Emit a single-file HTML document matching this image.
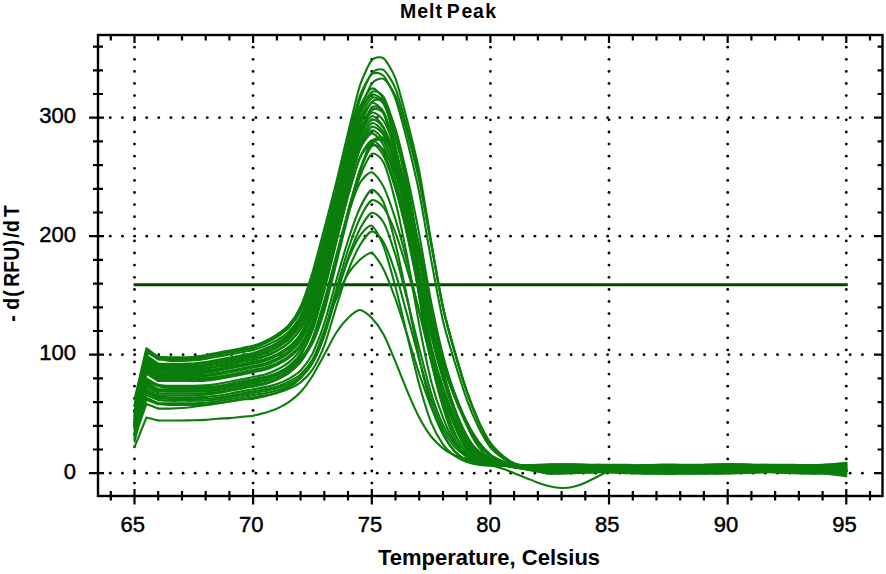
<!DOCTYPE html>
<html><head><meta charset="utf-8"><style>
html,body{margin:0;padding:0;background:#fff;}
svg{display:block;}
text{font-family:"Liberation Sans",sans-serif;}
</style></head><body>
<svg width="886" height="574" viewBox="0 0 886 574">
<rect width="886" height="574" fill="#fff"/>
<g fill="#000"><circle cx="134.5" cy="47.2" r="1.4"/><circle cx="134.5" cy="59.3" r="1.4"/><circle cx="134.5" cy="71.4" r="1.4"/><circle cx="134.5" cy="83.5" r="1.4"/><circle cx="134.5" cy="95.6" r="1.4"/><circle cx="134.5" cy="107.7" r="1.4"/><circle cx="134.5" cy="119.8" r="1.4"/><circle cx="134.5" cy="132.0" r="1.4"/><circle cx="134.5" cy="144.1" r="1.4"/><circle cx="134.5" cy="156.2" r="1.4"/><circle cx="134.5" cy="168.3" r="1.4"/><circle cx="134.5" cy="180.4" r="1.4"/><circle cx="134.5" cy="192.5" r="1.4"/><circle cx="134.5" cy="204.6" r="1.4"/><circle cx="134.5" cy="216.7" r="1.4"/><circle cx="134.5" cy="228.8" r="1.4"/><circle cx="134.5" cy="240.9" r="1.4"/><circle cx="134.5" cy="253.0" r="1.4"/><circle cx="134.5" cy="265.1" r="1.4"/><circle cx="134.5" cy="277.3" r="1.4"/><circle cx="134.5" cy="289.4" r="1.4"/><circle cx="134.5" cy="301.5" r="1.4"/><circle cx="134.5" cy="313.6" r="1.4"/><circle cx="134.5" cy="325.7" r="1.4"/><circle cx="134.5" cy="337.8" r="1.4"/><circle cx="134.5" cy="349.9" r="1.4"/><circle cx="134.5" cy="362.0" r="1.4"/><circle cx="134.5" cy="374.1" r="1.4"/><circle cx="134.5" cy="386.2" r="1.4"/><circle cx="134.5" cy="398.3" r="1.4"/><circle cx="134.5" cy="410.4" r="1.4"/><circle cx="134.5" cy="422.5" r="1.4"/><circle cx="134.5" cy="434.7" r="1.4"/><circle cx="134.5" cy="446.8" r="1.4"/><circle cx="134.5" cy="458.9" r="1.4"/><circle cx="134.5" cy="471.0" r="1.4"/><circle cx="134.5" cy="483.1" r="1.4"/><circle cx="253.1" cy="47.2" r="1.4"/><circle cx="253.1" cy="59.3" r="1.4"/><circle cx="253.1" cy="71.4" r="1.4"/><circle cx="253.1" cy="83.5" r="1.4"/><circle cx="253.1" cy="95.6" r="1.4"/><circle cx="253.1" cy="107.7" r="1.4"/><circle cx="253.1" cy="119.8" r="1.4"/><circle cx="253.1" cy="132.0" r="1.4"/><circle cx="253.1" cy="144.1" r="1.4"/><circle cx="253.1" cy="156.2" r="1.4"/><circle cx="253.1" cy="168.3" r="1.4"/><circle cx="253.1" cy="180.4" r="1.4"/><circle cx="253.1" cy="192.5" r="1.4"/><circle cx="253.1" cy="204.6" r="1.4"/><circle cx="253.1" cy="216.7" r="1.4"/><circle cx="253.1" cy="228.8" r="1.4"/><circle cx="253.1" cy="240.9" r="1.4"/><circle cx="253.1" cy="253.0" r="1.4"/><circle cx="253.1" cy="265.1" r="1.4"/><circle cx="253.1" cy="277.3" r="1.4"/><circle cx="253.1" cy="289.4" r="1.4"/><circle cx="253.1" cy="301.5" r="1.4"/><circle cx="253.1" cy="313.6" r="1.4"/><circle cx="253.1" cy="325.7" r="1.4"/><circle cx="253.1" cy="337.8" r="1.4"/><circle cx="253.1" cy="349.9" r="1.4"/><circle cx="253.1" cy="362.0" r="1.4"/><circle cx="253.1" cy="374.1" r="1.4"/><circle cx="253.1" cy="386.2" r="1.4"/><circle cx="253.1" cy="398.3" r="1.4"/><circle cx="253.1" cy="410.4" r="1.4"/><circle cx="253.1" cy="422.5" r="1.4"/><circle cx="253.1" cy="434.7" r="1.4"/><circle cx="253.1" cy="446.8" r="1.4"/><circle cx="253.1" cy="458.9" r="1.4"/><circle cx="253.1" cy="471.0" r="1.4"/><circle cx="253.1" cy="483.1" r="1.4"/><circle cx="371.8" cy="47.2" r="1.4"/><circle cx="371.8" cy="59.3" r="1.4"/><circle cx="371.8" cy="71.4" r="1.4"/><circle cx="371.8" cy="83.5" r="1.4"/><circle cx="371.8" cy="95.6" r="1.4"/><circle cx="371.8" cy="107.7" r="1.4"/><circle cx="371.8" cy="119.8" r="1.4"/><circle cx="371.8" cy="132.0" r="1.4"/><circle cx="371.8" cy="144.1" r="1.4"/><circle cx="371.8" cy="156.2" r="1.4"/><circle cx="371.8" cy="168.3" r="1.4"/><circle cx="371.8" cy="180.4" r="1.4"/><circle cx="371.8" cy="192.5" r="1.4"/><circle cx="371.8" cy="204.6" r="1.4"/><circle cx="371.8" cy="216.7" r="1.4"/><circle cx="371.8" cy="228.8" r="1.4"/><circle cx="371.8" cy="240.9" r="1.4"/><circle cx="371.8" cy="253.0" r="1.4"/><circle cx="371.8" cy="265.1" r="1.4"/><circle cx="371.8" cy="277.3" r="1.4"/><circle cx="371.8" cy="289.4" r="1.4"/><circle cx="371.8" cy="301.5" r="1.4"/><circle cx="371.8" cy="313.6" r="1.4"/><circle cx="371.8" cy="325.7" r="1.4"/><circle cx="371.8" cy="337.8" r="1.4"/><circle cx="371.8" cy="349.9" r="1.4"/><circle cx="371.8" cy="362.0" r="1.4"/><circle cx="371.8" cy="374.1" r="1.4"/><circle cx="371.8" cy="386.2" r="1.4"/><circle cx="371.8" cy="398.3" r="1.4"/><circle cx="371.8" cy="410.4" r="1.4"/><circle cx="371.8" cy="422.5" r="1.4"/><circle cx="371.8" cy="434.7" r="1.4"/><circle cx="371.8" cy="446.8" r="1.4"/><circle cx="371.8" cy="458.9" r="1.4"/><circle cx="371.8" cy="471.0" r="1.4"/><circle cx="371.8" cy="483.1" r="1.4"/><circle cx="490.4" cy="47.2" r="1.4"/><circle cx="490.4" cy="59.3" r="1.4"/><circle cx="490.4" cy="71.4" r="1.4"/><circle cx="490.4" cy="83.5" r="1.4"/><circle cx="490.4" cy="95.6" r="1.4"/><circle cx="490.4" cy="107.7" r="1.4"/><circle cx="490.4" cy="119.8" r="1.4"/><circle cx="490.4" cy="132.0" r="1.4"/><circle cx="490.4" cy="144.1" r="1.4"/><circle cx="490.4" cy="156.2" r="1.4"/><circle cx="490.4" cy="168.3" r="1.4"/><circle cx="490.4" cy="180.4" r="1.4"/><circle cx="490.4" cy="192.5" r="1.4"/><circle cx="490.4" cy="204.6" r="1.4"/><circle cx="490.4" cy="216.7" r="1.4"/><circle cx="490.4" cy="228.8" r="1.4"/><circle cx="490.4" cy="240.9" r="1.4"/><circle cx="490.4" cy="253.0" r="1.4"/><circle cx="490.4" cy="265.1" r="1.4"/><circle cx="490.4" cy="277.3" r="1.4"/><circle cx="490.4" cy="289.4" r="1.4"/><circle cx="490.4" cy="301.5" r="1.4"/><circle cx="490.4" cy="313.6" r="1.4"/><circle cx="490.4" cy="325.7" r="1.4"/><circle cx="490.4" cy="337.8" r="1.4"/><circle cx="490.4" cy="349.9" r="1.4"/><circle cx="490.4" cy="362.0" r="1.4"/><circle cx="490.4" cy="374.1" r="1.4"/><circle cx="490.4" cy="386.2" r="1.4"/><circle cx="490.4" cy="398.3" r="1.4"/><circle cx="490.4" cy="410.4" r="1.4"/><circle cx="490.4" cy="422.5" r="1.4"/><circle cx="490.4" cy="434.7" r="1.4"/><circle cx="490.4" cy="446.8" r="1.4"/><circle cx="490.4" cy="458.9" r="1.4"/><circle cx="490.4" cy="471.0" r="1.4"/><circle cx="490.4" cy="483.1" r="1.4"/><circle cx="609.0" cy="47.2" r="1.4"/><circle cx="609.0" cy="59.3" r="1.4"/><circle cx="609.0" cy="71.4" r="1.4"/><circle cx="609.0" cy="83.5" r="1.4"/><circle cx="609.0" cy="95.6" r="1.4"/><circle cx="609.0" cy="107.7" r="1.4"/><circle cx="609.0" cy="119.8" r="1.4"/><circle cx="609.0" cy="132.0" r="1.4"/><circle cx="609.0" cy="144.1" r="1.4"/><circle cx="609.0" cy="156.2" r="1.4"/><circle cx="609.0" cy="168.3" r="1.4"/><circle cx="609.0" cy="180.4" r="1.4"/><circle cx="609.0" cy="192.5" r="1.4"/><circle cx="609.0" cy="204.6" r="1.4"/><circle cx="609.0" cy="216.7" r="1.4"/><circle cx="609.0" cy="228.8" r="1.4"/><circle cx="609.0" cy="240.9" r="1.4"/><circle cx="609.0" cy="253.0" r="1.4"/><circle cx="609.0" cy="265.1" r="1.4"/><circle cx="609.0" cy="277.3" r="1.4"/><circle cx="609.0" cy="289.4" r="1.4"/><circle cx="609.0" cy="301.5" r="1.4"/><circle cx="609.0" cy="313.6" r="1.4"/><circle cx="609.0" cy="325.7" r="1.4"/><circle cx="609.0" cy="337.8" r="1.4"/><circle cx="609.0" cy="349.9" r="1.4"/><circle cx="609.0" cy="362.0" r="1.4"/><circle cx="609.0" cy="374.1" r="1.4"/><circle cx="609.0" cy="386.2" r="1.4"/><circle cx="609.0" cy="398.3" r="1.4"/><circle cx="609.0" cy="410.4" r="1.4"/><circle cx="609.0" cy="422.5" r="1.4"/><circle cx="609.0" cy="434.7" r="1.4"/><circle cx="609.0" cy="446.8" r="1.4"/><circle cx="609.0" cy="458.9" r="1.4"/><circle cx="609.0" cy="471.0" r="1.4"/><circle cx="609.0" cy="483.1" r="1.4"/><circle cx="727.7" cy="47.2" r="1.4"/><circle cx="727.7" cy="59.3" r="1.4"/><circle cx="727.7" cy="71.4" r="1.4"/><circle cx="727.7" cy="83.5" r="1.4"/><circle cx="727.7" cy="95.6" r="1.4"/><circle cx="727.7" cy="107.7" r="1.4"/><circle cx="727.7" cy="119.8" r="1.4"/><circle cx="727.7" cy="132.0" r="1.4"/><circle cx="727.7" cy="144.1" r="1.4"/><circle cx="727.7" cy="156.2" r="1.4"/><circle cx="727.7" cy="168.3" r="1.4"/><circle cx="727.7" cy="180.4" r="1.4"/><circle cx="727.7" cy="192.5" r="1.4"/><circle cx="727.7" cy="204.6" r="1.4"/><circle cx="727.7" cy="216.7" r="1.4"/><circle cx="727.7" cy="228.8" r="1.4"/><circle cx="727.7" cy="240.9" r="1.4"/><circle cx="727.7" cy="253.0" r="1.4"/><circle cx="727.7" cy="265.1" r="1.4"/><circle cx="727.7" cy="277.3" r="1.4"/><circle cx="727.7" cy="289.4" r="1.4"/><circle cx="727.7" cy="301.5" r="1.4"/><circle cx="727.7" cy="313.6" r="1.4"/><circle cx="727.7" cy="325.7" r="1.4"/><circle cx="727.7" cy="337.8" r="1.4"/><circle cx="727.7" cy="349.9" r="1.4"/><circle cx="727.7" cy="362.0" r="1.4"/><circle cx="727.7" cy="374.1" r="1.4"/><circle cx="727.7" cy="386.2" r="1.4"/><circle cx="727.7" cy="398.3" r="1.4"/><circle cx="727.7" cy="410.4" r="1.4"/><circle cx="727.7" cy="422.5" r="1.4"/><circle cx="727.7" cy="434.7" r="1.4"/><circle cx="727.7" cy="446.8" r="1.4"/><circle cx="727.7" cy="458.9" r="1.4"/><circle cx="727.7" cy="471.0" r="1.4"/><circle cx="727.7" cy="483.1" r="1.4"/><circle cx="846.3" cy="47.2" r="1.4"/><circle cx="846.3" cy="59.3" r="1.4"/><circle cx="846.3" cy="71.4" r="1.4"/><circle cx="846.3" cy="83.5" r="1.4"/><circle cx="846.3" cy="95.6" r="1.4"/><circle cx="846.3" cy="107.7" r="1.4"/><circle cx="846.3" cy="119.8" r="1.4"/><circle cx="846.3" cy="132.0" r="1.4"/><circle cx="846.3" cy="144.1" r="1.4"/><circle cx="846.3" cy="156.2" r="1.4"/><circle cx="846.3" cy="168.3" r="1.4"/><circle cx="846.3" cy="180.4" r="1.4"/><circle cx="846.3" cy="192.5" r="1.4"/><circle cx="846.3" cy="204.6" r="1.4"/><circle cx="846.3" cy="216.7" r="1.4"/><circle cx="846.3" cy="228.8" r="1.4"/><circle cx="846.3" cy="240.9" r="1.4"/><circle cx="846.3" cy="253.0" r="1.4"/><circle cx="846.3" cy="265.1" r="1.4"/><circle cx="846.3" cy="277.3" r="1.4"/><circle cx="846.3" cy="289.4" r="1.4"/><circle cx="846.3" cy="301.5" r="1.4"/><circle cx="846.3" cy="313.6" r="1.4"/><circle cx="846.3" cy="325.7" r="1.4"/><circle cx="846.3" cy="337.8" r="1.4"/><circle cx="846.3" cy="349.9" r="1.4"/><circle cx="846.3" cy="362.0" r="1.4"/><circle cx="846.3" cy="374.1" r="1.4"/><circle cx="846.3" cy="386.2" r="1.4"/><circle cx="846.3" cy="398.3" r="1.4"/><circle cx="846.3" cy="410.4" r="1.4"/><circle cx="846.3" cy="422.5" r="1.4"/><circle cx="846.3" cy="434.7" r="1.4"/><circle cx="846.3" cy="446.8" r="1.4"/><circle cx="846.3" cy="458.9" r="1.4"/><circle cx="846.3" cy="471.0" r="1.4"/><circle cx="846.3" cy="483.1" r="1.4"/><circle cx="110.3" cy="473.2" r="1.4"/><circle cx="122.4" cy="473.2" r="1.4"/><circle cx="134.6" cy="473.2" r="1.4"/><circle cx="146.7" cy="473.2" r="1.4"/><circle cx="158.8" cy="473.2" r="1.4"/><circle cx="170.9" cy="473.2" r="1.4"/><circle cx="183.1" cy="473.2" r="1.4"/><circle cx="195.2" cy="473.2" r="1.4"/><circle cx="207.3" cy="473.2" r="1.4"/><circle cx="219.5" cy="473.2" r="1.4"/><circle cx="231.6" cy="473.2" r="1.4"/><circle cx="243.7" cy="473.2" r="1.4"/><circle cx="255.9" cy="473.2" r="1.4"/><circle cx="268.0" cy="473.2" r="1.4"/><circle cx="280.1" cy="473.2" r="1.4"/><circle cx="292.2" cy="473.2" r="1.4"/><circle cx="304.4" cy="473.2" r="1.4"/><circle cx="316.5" cy="473.2" r="1.4"/><circle cx="328.6" cy="473.2" r="1.4"/><circle cx="340.8" cy="473.2" r="1.4"/><circle cx="352.9" cy="473.2" r="1.4"/><circle cx="365.0" cy="473.2" r="1.4"/><circle cx="377.2" cy="473.2" r="1.4"/><circle cx="389.3" cy="473.2" r="1.4"/><circle cx="401.4" cy="473.2" r="1.4"/><circle cx="413.6" cy="473.2" r="1.4"/><circle cx="425.7" cy="473.2" r="1.4"/><circle cx="437.8" cy="473.2" r="1.4"/><circle cx="449.9" cy="473.2" r="1.4"/><circle cx="462.1" cy="473.2" r="1.4"/><circle cx="474.2" cy="473.2" r="1.4"/><circle cx="486.3" cy="473.2" r="1.4"/><circle cx="498.5" cy="473.2" r="1.4"/><circle cx="510.6" cy="473.2" r="1.4"/><circle cx="522.7" cy="473.2" r="1.4"/><circle cx="534.9" cy="473.2" r="1.4"/><circle cx="547.0" cy="473.2" r="1.4"/><circle cx="559.1" cy="473.2" r="1.4"/><circle cx="571.2" cy="473.2" r="1.4"/><circle cx="583.4" cy="473.2" r="1.4"/><circle cx="595.5" cy="473.2" r="1.4"/><circle cx="607.6" cy="473.2" r="1.4"/><circle cx="619.8" cy="473.2" r="1.4"/><circle cx="631.9" cy="473.2" r="1.4"/><circle cx="644.0" cy="473.2" r="1.4"/><circle cx="656.1" cy="473.2" r="1.4"/><circle cx="668.3" cy="473.2" r="1.4"/><circle cx="680.4" cy="473.2" r="1.4"/><circle cx="692.5" cy="473.2" r="1.4"/><circle cx="704.7" cy="473.2" r="1.4"/><circle cx="716.8" cy="473.2" r="1.4"/><circle cx="728.9" cy="473.2" r="1.4"/><circle cx="741.1" cy="473.2" r="1.4"/><circle cx="753.2" cy="473.2" r="1.4"/><circle cx="765.3" cy="473.2" r="1.4"/><circle cx="777.5" cy="473.2" r="1.4"/><circle cx="789.6" cy="473.2" r="1.4"/><circle cx="801.7" cy="473.2" r="1.4"/><circle cx="813.8" cy="473.2" r="1.4"/><circle cx="826.0" cy="473.2" r="1.4"/><circle cx="838.1" cy="473.2" r="1.4"/><circle cx="850.2" cy="473.2" r="1.4"/><circle cx="862.4" cy="473.2" r="1.4"/><circle cx="110.3" cy="354.7" r="1.4"/><circle cx="122.4" cy="354.7" r="1.4"/><circle cx="134.6" cy="354.7" r="1.4"/><circle cx="146.7" cy="354.7" r="1.4"/><circle cx="158.8" cy="354.7" r="1.4"/><circle cx="170.9" cy="354.7" r="1.4"/><circle cx="183.1" cy="354.7" r="1.4"/><circle cx="195.2" cy="354.7" r="1.4"/><circle cx="207.3" cy="354.7" r="1.4"/><circle cx="219.5" cy="354.7" r="1.4"/><circle cx="231.6" cy="354.7" r="1.4"/><circle cx="243.7" cy="354.7" r="1.4"/><circle cx="255.9" cy="354.7" r="1.4"/><circle cx="268.0" cy="354.7" r="1.4"/><circle cx="280.1" cy="354.7" r="1.4"/><circle cx="292.2" cy="354.7" r="1.4"/><circle cx="304.4" cy="354.7" r="1.4"/><circle cx="316.5" cy="354.7" r="1.4"/><circle cx="328.6" cy="354.7" r="1.4"/><circle cx="340.8" cy="354.7" r="1.4"/><circle cx="352.9" cy="354.7" r="1.4"/><circle cx="365.0" cy="354.7" r="1.4"/><circle cx="377.2" cy="354.7" r="1.4"/><circle cx="389.3" cy="354.7" r="1.4"/><circle cx="401.4" cy="354.7" r="1.4"/><circle cx="413.6" cy="354.7" r="1.4"/><circle cx="425.7" cy="354.7" r="1.4"/><circle cx="437.8" cy="354.7" r="1.4"/><circle cx="449.9" cy="354.7" r="1.4"/><circle cx="462.1" cy="354.7" r="1.4"/><circle cx="474.2" cy="354.7" r="1.4"/><circle cx="486.3" cy="354.7" r="1.4"/><circle cx="498.5" cy="354.7" r="1.4"/><circle cx="510.6" cy="354.7" r="1.4"/><circle cx="522.7" cy="354.7" r="1.4"/><circle cx="534.9" cy="354.7" r="1.4"/><circle cx="547.0" cy="354.7" r="1.4"/><circle cx="559.1" cy="354.7" r="1.4"/><circle cx="571.2" cy="354.7" r="1.4"/><circle cx="583.4" cy="354.7" r="1.4"/><circle cx="595.5" cy="354.7" r="1.4"/><circle cx="607.6" cy="354.7" r="1.4"/><circle cx="619.8" cy="354.7" r="1.4"/><circle cx="631.9" cy="354.7" r="1.4"/><circle cx="644.0" cy="354.7" r="1.4"/><circle cx="656.1" cy="354.7" r="1.4"/><circle cx="668.3" cy="354.7" r="1.4"/><circle cx="680.4" cy="354.7" r="1.4"/><circle cx="692.5" cy="354.7" r="1.4"/><circle cx="704.7" cy="354.7" r="1.4"/><circle cx="716.8" cy="354.7" r="1.4"/><circle cx="728.9" cy="354.7" r="1.4"/><circle cx="741.1" cy="354.7" r="1.4"/><circle cx="753.2" cy="354.7" r="1.4"/><circle cx="765.3" cy="354.7" r="1.4"/><circle cx="777.5" cy="354.7" r="1.4"/><circle cx="789.6" cy="354.7" r="1.4"/><circle cx="801.7" cy="354.7" r="1.4"/><circle cx="813.8" cy="354.7" r="1.4"/><circle cx="826.0" cy="354.7" r="1.4"/><circle cx="838.1" cy="354.7" r="1.4"/><circle cx="850.2" cy="354.7" r="1.4"/><circle cx="862.4" cy="354.7" r="1.4"/><circle cx="110.3" cy="236.2" r="1.4"/><circle cx="122.4" cy="236.2" r="1.4"/><circle cx="134.6" cy="236.2" r="1.4"/><circle cx="146.7" cy="236.2" r="1.4"/><circle cx="158.8" cy="236.2" r="1.4"/><circle cx="170.9" cy="236.2" r="1.4"/><circle cx="183.1" cy="236.2" r="1.4"/><circle cx="195.2" cy="236.2" r="1.4"/><circle cx="207.3" cy="236.2" r="1.4"/><circle cx="219.5" cy="236.2" r="1.4"/><circle cx="231.6" cy="236.2" r="1.4"/><circle cx="243.7" cy="236.2" r="1.4"/><circle cx="255.9" cy="236.2" r="1.4"/><circle cx="268.0" cy="236.2" r="1.4"/><circle cx="280.1" cy="236.2" r="1.4"/><circle cx="292.2" cy="236.2" r="1.4"/><circle cx="304.4" cy="236.2" r="1.4"/><circle cx="316.5" cy="236.2" r="1.4"/><circle cx="328.6" cy="236.2" r="1.4"/><circle cx="340.8" cy="236.2" r="1.4"/><circle cx="352.9" cy="236.2" r="1.4"/><circle cx="365.0" cy="236.2" r="1.4"/><circle cx="377.2" cy="236.2" r="1.4"/><circle cx="389.3" cy="236.2" r="1.4"/><circle cx="401.4" cy="236.2" r="1.4"/><circle cx="413.6" cy="236.2" r="1.4"/><circle cx="425.7" cy="236.2" r="1.4"/><circle cx="437.8" cy="236.2" r="1.4"/><circle cx="449.9" cy="236.2" r="1.4"/><circle cx="462.1" cy="236.2" r="1.4"/><circle cx="474.2" cy="236.2" r="1.4"/><circle cx="486.3" cy="236.2" r="1.4"/><circle cx="498.5" cy="236.2" r="1.4"/><circle cx="510.6" cy="236.2" r="1.4"/><circle cx="522.7" cy="236.2" r="1.4"/><circle cx="534.9" cy="236.2" r="1.4"/><circle cx="547.0" cy="236.2" r="1.4"/><circle cx="559.1" cy="236.2" r="1.4"/><circle cx="571.2" cy="236.2" r="1.4"/><circle cx="583.4" cy="236.2" r="1.4"/><circle cx="595.5" cy="236.2" r="1.4"/><circle cx="607.6" cy="236.2" r="1.4"/><circle cx="619.8" cy="236.2" r="1.4"/><circle cx="631.9" cy="236.2" r="1.4"/><circle cx="644.0" cy="236.2" r="1.4"/><circle cx="656.1" cy="236.2" r="1.4"/><circle cx="668.3" cy="236.2" r="1.4"/><circle cx="680.4" cy="236.2" r="1.4"/><circle cx="692.5" cy="236.2" r="1.4"/><circle cx="704.7" cy="236.2" r="1.4"/><circle cx="716.8" cy="236.2" r="1.4"/><circle cx="728.9" cy="236.2" r="1.4"/><circle cx="741.1" cy="236.2" r="1.4"/><circle cx="753.2" cy="236.2" r="1.4"/><circle cx="765.3" cy="236.2" r="1.4"/><circle cx="777.5" cy="236.2" r="1.4"/><circle cx="789.6" cy="236.2" r="1.4"/><circle cx="801.7" cy="236.2" r="1.4"/><circle cx="813.8" cy="236.2" r="1.4"/><circle cx="826.0" cy="236.2" r="1.4"/><circle cx="838.1" cy="236.2" r="1.4"/><circle cx="850.2" cy="236.2" r="1.4"/><circle cx="862.4" cy="236.2" r="1.4"/><circle cx="110.3" cy="117.7" r="1.4"/><circle cx="122.4" cy="117.7" r="1.4"/><circle cx="134.6" cy="117.7" r="1.4"/><circle cx="146.7" cy="117.7" r="1.4"/><circle cx="158.8" cy="117.7" r="1.4"/><circle cx="170.9" cy="117.7" r="1.4"/><circle cx="183.1" cy="117.7" r="1.4"/><circle cx="195.2" cy="117.7" r="1.4"/><circle cx="207.3" cy="117.7" r="1.4"/><circle cx="219.5" cy="117.7" r="1.4"/><circle cx="231.6" cy="117.7" r="1.4"/><circle cx="243.7" cy="117.7" r="1.4"/><circle cx="255.9" cy="117.7" r="1.4"/><circle cx="268.0" cy="117.7" r="1.4"/><circle cx="280.1" cy="117.7" r="1.4"/><circle cx="292.2" cy="117.7" r="1.4"/><circle cx="304.4" cy="117.7" r="1.4"/><circle cx="316.5" cy="117.7" r="1.4"/><circle cx="328.6" cy="117.7" r="1.4"/><circle cx="340.8" cy="117.7" r="1.4"/><circle cx="352.9" cy="117.7" r="1.4"/><circle cx="365.0" cy="117.7" r="1.4"/><circle cx="377.2" cy="117.7" r="1.4"/><circle cx="389.3" cy="117.7" r="1.4"/><circle cx="401.4" cy="117.7" r="1.4"/><circle cx="413.6" cy="117.7" r="1.4"/><circle cx="425.7" cy="117.7" r="1.4"/><circle cx="437.8" cy="117.7" r="1.4"/><circle cx="449.9" cy="117.7" r="1.4"/><circle cx="462.1" cy="117.7" r="1.4"/><circle cx="474.2" cy="117.7" r="1.4"/><circle cx="486.3" cy="117.7" r="1.4"/><circle cx="498.5" cy="117.7" r="1.4"/><circle cx="510.6" cy="117.7" r="1.4"/><circle cx="522.7" cy="117.7" r="1.4"/><circle cx="534.9" cy="117.7" r="1.4"/><circle cx="547.0" cy="117.7" r="1.4"/><circle cx="559.1" cy="117.7" r="1.4"/><circle cx="571.2" cy="117.7" r="1.4"/><circle cx="583.4" cy="117.7" r="1.4"/><circle cx="595.5" cy="117.7" r="1.4"/><circle cx="607.6" cy="117.7" r="1.4"/><circle cx="619.8" cy="117.7" r="1.4"/><circle cx="631.9" cy="117.7" r="1.4"/><circle cx="644.0" cy="117.7" r="1.4"/><circle cx="656.1" cy="117.7" r="1.4"/><circle cx="668.3" cy="117.7" r="1.4"/><circle cx="680.4" cy="117.7" r="1.4"/><circle cx="692.5" cy="117.7" r="1.4"/><circle cx="704.7" cy="117.7" r="1.4"/><circle cx="716.8" cy="117.7" r="1.4"/><circle cx="728.9" cy="117.7" r="1.4"/><circle cx="741.1" cy="117.7" r="1.4"/><circle cx="753.2" cy="117.7" r="1.4"/><circle cx="765.3" cy="117.7" r="1.4"/><circle cx="777.5" cy="117.7" r="1.4"/><circle cx="789.6" cy="117.7" r="1.4"/><circle cx="801.7" cy="117.7" r="1.4"/><circle cx="813.8" cy="117.7" r="1.4"/><circle cx="826.0" cy="117.7" r="1.4"/><circle cx="838.1" cy="117.7" r="1.4"/><circle cx="850.2" cy="117.7" r="1.4"/><circle cx="862.4" cy="117.7" r="1.4"/></g>
<line x1="133.5" y1="284.7" x2="847.8" y2="284.7" stroke="#004a00" stroke-width="3"/>
<g fill="none" stroke="#0a7d0a" stroke-width="2.1" stroke-linejoin="round" stroke-linecap="round"><path d="M134.5,399.4 L146.4,348.2 L158.2,357.1"/><path d="M158.2,357.1 C159.6,357.1 167.3,357.3 170.1,357.3 C172.9,357.3 179.2,357.4 182.0,357.3 C184.7,357.2 191.0,357.0 193.8,356.7 C196.6,356.5 202.9,355.5 205.7,355.1 C208.4,354.6 214.8,353.2 217.5,352.7 C220.3,352.2 226.6,351.1 229.4,350.6 C232.2,350.0 238.5,348.7 241.3,348.2 C244.0,347.6 250.4,346.6 253.1,345.8 C255.9,345.0 262.2,342.4 265.0,341.1 C267.8,339.8 274.1,336.4 276.9,334.6 C279.6,332.7 286.0,328.4 288.7,325.1 C291.5,321.9 297.8,313.0 300.6,306.8 C303.4,300.7 309.7,281.6 312.5,272.5 C315.2,263.4 321.5,239.3 324.3,228.8 C327.1,218.3 333.4,193.9 336.2,182.7 C338.9,171.5 345.3,144.3 348.0,133.0 C350.8,121.7 357.1,94.1 359.9,85.6 C362.7,77.2 369.0,63.4 371.8,60.2 C374.5,57.0 380.9,56.3 383.6,58.4 C386.4,60.6 392.7,71.3 395.5,78.6 C398.3,85.9 404.6,110.5 407.4,121.3 C410.1,132.0 416.5,157.1 419.2,171.0 C422.0,185.0 428.3,225.0 431.1,240.9 C433.9,256.8 440.2,294.4 443.0,307.3 C445.7,320.2 452.0,341.3 454.8,351.1 C457.6,361.0 463.9,383.1 466.7,391.4 C469.4,399.7 475.8,416.0 478.5,422.2 C481.3,428.5 487.6,440.8 490.4,444.8 C493.2,448.8 499.5,454.4 502.3,456.6 C505.0,458.8 511.4,462.4 514.1,463.6 C516.9,464.7 523.2,465.7 526.0,466.2 C528.8,466.7 535.1,467.7 537.9,468.1 C540.6,468.5 547.0,469.4 549.7,469.7 C552.5,469.9 558.8,470.1 561.6,470.2 C564.4,470.3 570.7,470.5 573.4,470.5 C576.2,470.6 582.5,470.7 585.3,470.7 C588.1,470.7 594.4,470.7 597.2,470.6 C599.9,470.6 606.3,470.4 609.0,470.3 C611.8,470.2 618.1,470.0 620.9,469.9 C623.7,469.8 630.0,469.5 632.8,469.4 C635.5,469.2 641.9,469.0 644.6,468.9 C647.4,468.8 653.7,468.6 656.5,468.5 C659.3,468.4 665.6,468.3 668.4,468.3 C671.1,468.3 677.5,468.4 680.2,468.4 C683.0,468.5 689.3,468.6 692.1,468.7 C694.9,468.8 701.2,469.1 703.9,469.2 C706.7,469.3 713.0,469.6 715.8,469.7 C718.6,469.8 724.9,470.1 727.7,470.2 C730.4,470.3 736.8,470.5 739.5,470.5 C742.3,470.6 748.6,470.7 751.4,470.7 C754.2,470.7 760.5,470.7 763.3,470.6 C766.0,470.6 772.4,470.4 775.1,470.3 C777.9,470.2 784.2,470.0 787.0,469.9 C789.8,469.7 796.1,469.5 798.9,469.3 C801.6,469.2 808.0,469.0 810.7,468.8 C813.5,468.7 819.8,468.3 822.6,468.2 C825.4,468.1 831.7,467.9 834.4,467.8 C837.2,467.7 844.9,467.6 846.3,467.6"/><path d="M134.5,405.9 L146.4,349.6 L158.2,357.4"/><path d="M158.2,357.4 C159.6,357.5 167.3,358.4 170.1,358.5 C172.9,358.6 179.2,358.5 182.0,358.5 C184.7,358.4 191.0,358.2 193.8,357.9 C196.6,357.7 202.9,356.8 205.7,356.4 C208.4,355.9 214.8,354.6 217.5,354.1 C220.3,353.6 226.6,352.5 229.4,352.0 C232.2,351.4 238.5,350.2 241.3,349.6 C244.0,349.1 250.4,348.1 253.1,347.4 C255.9,346.6 262.2,344.2 265.0,343.0 C267.8,341.8 274.1,338.6 276.9,336.9 C279.6,335.1 286.0,331.0 288.7,328.0 C291.5,325.0 297.8,316.8 300.6,311.2 C303.4,305.6 309.7,288.3 312.5,279.7 C315.2,271.2 321.5,248.0 324.3,237.9 C327.1,227.8 333.4,203.9 336.2,193.1 C338.9,182.2 345.3,156.2 348.0,145.2 C350.8,134.3 357.1,108.0 359.9,99.6 C362.7,91.2 369.0,76.6 371.8,73.1 C374.5,69.7 380.9,68.2 383.6,70.0 C386.4,71.8 392.7,81.7 395.5,88.6 C398.3,95.4 404.6,118.4 407.4,128.8 C410.1,139.1 416.5,163.8 419.2,177.2 C422.0,190.6 428.3,228.0 431.1,243.2 C433.9,258.5 440.2,295.1 443.0,307.8 C445.7,320.6 452.0,342.7 454.8,352.4 C457.6,362.2 463.9,383.3 466.7,391.3 C469.4,399.4 475.8,415.4 478.5,421.6 C481.3,427.7 487.6,439.7 490.4,443.7 C493.2,447.7 499.5,453.6 502.3,456.0 C505.0,458.3 511.4,462.5 514.1,463.8 C516.9,465.1 523.2,466.2 526.0,466.7 C528.8,467.3 535.1,467.9 537.9,468.2 C540.6,468.4 547.0,468.8 549.7,468.8 C552.5,468.8 558.8,468.5 561.6,468.4 C564.4,468.4 570.7,468.3 573.4,468.2 C576.2,468.2 582.5,468.3 585.3,468.3 C588.1,468.3 594.4,468.5 597.2,468.6 C599.9,468.7 606.3,468.9 609.0,469.0 C611.8,469.2 618.1,469.4 620.9,469.6 C623.7,469.7 630.0,470.0 632.8,470.1 C635.5,470.2 641.9,470.4 644.6,470.4 C647.4,470.5 653.7,470.6 656.5,470.6 C659.3,470.6 665.6,470.6 668.4,470.5 C671.1,470.5 677.5,470.3 680.2,470.3 C683.0,470.2 689.3,469.9 692.1,469.8 C694.9,469.7 701.2,469.4 703.9,469.3 C706.7,469.2 713.0,468.9 715.8,468.8 C718.6,468.7 724.9,468.5 727.7,468.4 C730.4,468.3 736.8,468.3 739.5,468.2 C742.3,468.2 748.6,468.3 751.4,468.3 C754.2,468.4 760.5,468.5 763.3,468.6 C766.0,468.7 772.4,468.9 775.1,469.1 C777.9,469.2 784.2,469.5 787.0,469.6 C789.8,469.7 796.1,470.0 798.9,470.1 C801.6,470.2 808.0,470.4 810.7,470.4 C813.5,470.5 819.8,470.5 822.6,470.5 C825.4,470.5 831.7,470.4 834.4,470.3 C837.2,470.2 844.9,469.9 846.3,469.9"/><path d="M134.5,405.9 L146.4,350.9 L158.2,359.5"/><path d="M158.2,359.5 C159.6,359.5 167.3,359.7 170.1,359.7 C172.9,359.7 179.2,359.7 182.0,359.6 C184.7,359.5 191.0,359.1 193.8,358.9 C196.6,358.6 202.9,357.6 205.7,357.1 C208.4,356.7 214.8,355.3 217.5,354.8 C220.3,354.3 226.6,353.2 229.4,352.7 C232.2,352.2 238.5,350.9 241.3,350.4 C244.0,349.8 250.4,348.7 253.1,347.9 C255.9,347.0 262.2,344.5 265.0,343.2 C267.8,341.9 274.1,338.6 276.9,336.6 C279.6,334.7 286.0,330.1 288.7,326.7 C291.5,323.3 297.8,313.8 300.6,307.6 C303.4,301.5 309.7,282.8 312.5,273.9 C315.2,265.0 321.5,241.3 324.3,231.0 C327.1,220.8 333.4,196.7 336.2,185.9 C338.9,175.1 345.3,149.0 348.0,138.5 C350.8,128.0 357.1,103.3 359.9,95.8 C362.7,88.3 369.0,76.5 371.8,74.2 C374.5,71.8 380.9,73.0 383.6,75.9 C386.4,78.8 392.7,91.2 395.5,98.9 C398.3,106.6 404.6,130.9 407.4,141.8 C410.1,152.7 416.5,178.8 419.2,192.5 C422.0,206.3 428.3,244.4 431.1,259.4 C433.9,274.4 440.2,308.7 443.0,320.8 C445.7,332.8 452.0,353.1 454.8,362.3 C457.6,371.5 463.9,391.7 466.7,399.3 C469.4,406.9 475.8,421.7 478.5,427.3 C481.3,432.9 487.6,443.8 490.4,447.3 C493.2,450.9 499.5,455.8 502.3,457.8 C505.0,459.8 511.4,463.3 514.1,464.5 C516.9,465.6 523.2,467.0 526.0,467.6 C528.8,468.3 535.1,469.5 537.9,470.1 C540.6,470.6 547.0,472.0 549.7,472.3 C552.5,472.5 558.8,472.5 561.6,472.6 C564.4,472.6 570.7,472.7 573.4,472.7 C576.2,472.7 582.5,472.6 585.3,472.5 C588.1,472.5 594.4,472.3 597.2,472.2 C599.9,472.1 606.3,471.8 609.0,471.7 C611.8,471.6 618.1,471.3 620.9,471.2 C623.7,471.1 630.0,470.8 632.8,470.7 C635.5,470.6 641.9,470.4 644.6,470.4 C647.4,470.4 653.7,470.3 656.5,470.3 C659.3,470.3 665.6,470.4 668.4,470.4 C671.1,470.5 677.5,470.7 680.2,470.8 C683.0,470.9 689.3,471.2 692.1,471.3 C694.9,471.4 701.2,471.7 703.9,471.8 C706.7,471.9 713.0,472.2 715.8,472.3 C718.6,472.4 724.9,472.5 727.7,472.6 C730.4,472.6 736.8,472.7 739.5,472.7 C742.3,472.7 748.6,472.6 751.4,472.5 C754.2,472.5 760.5,472.3 763.3,472.2 C766.0,472.1 772.4,471.8 775.1,471.7 C777.9,471.6 784.2,471.3 787.0,471.2 C789.8,471.0 796.1,470.8 798.9,470.7 C801.6,470.6 808.0,470.5 810.7,470.4 C813.5,470.3 819.8,470.2 822.6,470.2 C825.4,470.1 831.7,470.2 834.4,470.2 C837.2,470.2 844.9,470.4 846.3,470.4"/><path d="M134.5,412.1 L146.4,352.2 L158.2,359.0"/><path d="M158.2,359.0 C159.6,359.2 167.3,360.6 170.1,360.9 C172.9,361.1 179.2,360.9 182.0,360.9 C184.7,360.8 191.0,360.6 193.8,360.3 C196.6,360.1 202.9,359.3 205.7,358.9 C208.4,358.4 214.8,357.2 217.5,356.7 C220.3,356.2 226.6,355.0 229.4,354.5 C232.2,354.0 238.5,352.8 241.3,352.3 C244.0,351.7 250.4,350.8 253.1,350.0 C255.9,349.3 262.2,347.1 265.0,346.0 C267.8,344.8 274.1,341.8 276.9,340.2 C279.6,338.5 286.0,334.6 288.7,331.8 C291.5,328.9 297.8,321.3 300.6,316.1 C303.4,310.9 309.7,295.0 312.5,286.9 C315.2,278.8 321.5,256.4 324.3,246.6 C327.1,236.7 333.4,213.1 336.2,202.5 C338.9,191.9 345.3,166.6 348.0,155.9 C350.8,145.3 357.1,119.7 359.9,111.3 C362.7,102.9 369.0,87.4 371.8,83.6 C374.5,79.9 380.9,77.5 383.6,78.9 C386.4,80.4 392.7,89.4 395.5,95.8 C398.3,102.2 404.6,123.8 407.4,133.7 C410.1,143.7 416.5,168.2 419.2,181.0 C422.0,193.9 428.3,229.1 431.1,243.8 C433.9,258.5 440.2,294.4 443.0,307.1 C445.7,319.8 452.0,342.9 454.8,352.7 C457.6,362.4 463.9,382.7 466.7,390.6 C469.4,398.6 475.8,414.5 478.5,420.6 C481.3,426.7 487.6,438.6 490.4,442.6 C493.2,446.7 499.5,452.9 502.3,455.3 C505.0,457.7 511.4,461.8 514.1,463.1 C516.9,464.3 523.2,465.4 526.0,465.8 C528.8,466.3 535.1,466.8 537.9,467.0 C540.6,467.1 547.0,467.2 549.7,467.2 C552.5,467.2 558.8,466.8 561.6,466.7 C564.4,466.6 570.7,466.3 573.4,466.2 C576.2,466.1 582.5,466.0 585.3,465.9 C588.1,465.9 594.4,465.8 597.2,465.8 C599.9,465.8 606.3,465.9 609.0,466.0 C611.8,466.1 618.1,466.3 620.9,466.4 C623.7,466.5 630.0,466.7 632.8,466.8 C635.5,467.0 641.9,467.3 644.6,467.4 C647.4,467.5 653.7,467.7 656.5,467.8 C659.3,467.9 665.6,468.1 668.4,468.1 C671.1,468.2 677.5,468.2 680.2,468.2 C683.0,468.2 689.3,468.1 692.1,468.0 C694.9,468.0 701.2,467.8 703.9,467.7 C706.7,467.6 713.0,467.3 715.8,467.2 C718.6,467.1 724.9,466.8 727.7,466.7 C730.4,466.5 736.8,466.3 739.5,466.2 C742.3,466.1 748.6,466.0 751.4,465.9 C754.2,465.9 760.5,465.8 763.3,465.8 C766.0,465.8 772.4,465.9 775.1,466.0 C777.9,466.1 784.2,466.3 787.0,466.4 C789.8,466.5 796.1,466.7 798.9,466.9 C801.6,467.0 808.0,467.1 810.7,467.4 C813.5,467.6 819.8,468.6 822.6,468.9 C825.4,469.3 831.7,470.0 834.4,470.3 C837.2,470.6 844.9,471.4 846.3,471.5"/><path d="M134.5,426.4 L146.4,355.4 L158.2,363.7"/><path d="M158.2,363.7 C159.6,363.7 167.3,363.8 170.1,363.8 C172.9,363.8 179.2,363.9 182.0,363.8 C184.7,363.8 191.0,363.6 193.8,363.4 C196.6,363.1 202.9,362.4 205.7,362.0 C208.4,361.6 214.8,360.3 217.5,359.8 C220.3,359.3 226.6,358.1 229.4,357.6 C232.2,357.1 238.5,355.8 241.3,355.3 C244.0,354.7 250.4,353.7 253.1,353.0 C255.9,352.2 262.2,350.0 265.0,348.8 C267.8,347.6 274.1,344.5 276.9,342.8 C279.6,341.0 286.0,336.9 288.7,333.9 C291.5,330.9 297.8,322.6 300.6,316.8 C303.4,311.0 309.7,293.1 312.5,284.2 C315.2,275.3 321.5,251.0 324.3,240.6 C327.1,230.1 333.4,205.6 336.2,194.8 C338.9,183.9 345.3,157.8 348.0,147.5 C350.8,137.3 357.1,113.9 359.9,107.0 C362.7,100.1 369.0,89.3 371.8,88.5 C374.5,87.7 380.9,93.4 383.6,100.1 C386.4,106.8 392.7,133.1 395.5,146.3 C398.3,159.5 404.6,195.4 407.4,213.1 C410.1,230.8 416.5,280.5 419.2,297.7 C422.0,315.0 428.3,348.3 431.1,361.1 C433.9,373.9 440.2,398.3 443.0,407.4 C445.7,416.5 452.0,433.5 454.8,439.3 C457.6,445.1 463.9,454.3 466.7,457.0 C469.4,459.8 475.8,462.0 478.5,462.9 C481.3,463.8 487.6,464.4 490.4,464.7 C493.2,464.9 499.5,465.0 502.3,465.1 C505.0,465.2 511.4,465.4 514.1,465.5 C516.9,465.7 523.2,466.0 526.0,466.2 C528.8,466.4 535.1,466.9 537.9,467.1 C540.6,467.4 547.0,468.0 549.7,468.1 C552.5,468.2 558.8,468.2 561.6,468.1 C564.4,468.1 570.7,468.0 573.4,467.9 C576.2,467.9 582.5,467.7 585.3,467.6 C588.1,467.5 594.4,467.2 597.2,467.1 C599.9,466.9 606.3,466.6 609.0,466.5 C611.8,466.4 618.1,466.2 620.9,466.1 C623.7,466.0 630.0,465.9 632.8,465.8 C635.5,465.8 641.9,465.8 644.6,465.8 C647.4,465.8 653.7,465.9 656.5,466.0 C659.3,466.1 665.6,466.3 668.4,466.4 C671.1,466.5 677.5,466.8 680.2,466.9 C683.0,467.0 689.3,467.3 692.1,467.4 C694.9,467.5 701.2,467.8 703.9,467.8 C706.7,467.9 713.0,468.1 715.8,468.1 C718.6,468.1 724.9,468.2 727.7,468.1 C730.4,468.1 736.8,468.0 739.5,467.9 C742.3,467.9 748.6,467.6 751.4,467.5 C754.2,467.4 760.5,467.2 763.3,467.0 C766.0,466.9 772.4,466.6 775.1,466.5 C777.9,466.4 784.2,466.2 787.0,466.1 C789.8,466.0 796.1,465.9 798.9,465.8 C801.6,465.8 808.0,465.9 810.7,465.8 C813.5,465.7 819.8,465.4 822.6,465.3 C825.4,465.2 831.7,465.1 834.4,465.1 C837.2,465.0 844.9,464.9 846.3,464.9"/><path d="M134.5,427.5 L146.4,356.7 L158.2,364.9"/><path d="M158.2,364.9 C159.6,364.9 167.3,365.0 170.1,365.0 C172.9,365.0 179.2,365.1 182.0,365.0 C184.7,364.9 191.0,364.7 193.8,364.5 C196.6,364.2 202.9,363.5 205.7,363.0 C208.4,362.6 214.8,361.4 217.5,360.9 C220.3,360.4 226.6,359.2 229.4,358.7 C232.2,358.2 238.5,357.0 241.3,356.4 C244.0,355.9 250.4,354.9 253.1,354.2 C255.9,353.5 262.2,351.3 265.0,350.1 C267.8,349.0 274.1,346.0 276.9,344.3 C279.6,342.6 286.0,338.6 288.7,335.7 C291.5,332.8 297.8,324.9 300.6,319.4 C303.4,313.9 309.7,297.3 312.5,288.8 C315.2,280.4 321.5,257.0 324.3,246.9 C327.1,236.8 333.4,213.0 336.2,202.4 C338.9,191.8 345.3,166.3 348.0,155.9 C350.8,145.6 357.1,121.1 359.9,113.6 C362.7,106.2 369.0,93.9 371.8,91.9 C374.5,90.0 380.9,92.5 383.6,96.9 C386.4,101.3 392.7,119.8 395.5,129.8 C398.3,139.8 404.6,168.4 407.4,182.5 C410.1,196.7 416.5,234.5 419.2,250.9 C422.0,267.3 428.3,309.0 431.1,323.0 C433.9,337.0 440.2,361.0 443.0,371.2 C445.7,381.3 452.0,402.3 454.8,410.1 C457.6,417.9 463.9,432.7 466.7,437.9 C469.4,443.1 475.8,451.8 478.5,454.6 C481.3,457.4 487.6,460.7 490.4,461.9 C493.2,463.0 499.5,463.7 502.3,464.1 C505.0,464.6 511.4,465.6 514.1,465.9 C516.9,466.2 523.2,466.4 526.0,466.5 C528.8,466.6 535.1,466.8 537.9,466.9 C540.6,467.0 547.0,467.2 549.7,467.3 C552.5,467.3 558.8,467.3 561.6,467.3 C564.4,467.4 570.7,467.5 573.4,467.6 C576.2,467.7 582.5,467.9 585.3,468.0 C588.1,468.1 594.4,468.4 597.2,468.5 C599.9,468.7 606.3,468.9 609.0,469.0 C611.8,469.1 618.1,469.4 620.9,469.4 C623.7,469.5 630.0,469.6 632.8,469.6 C635.5,469.6 641.9,469.6 644.6,469.6 C647.4,469.6 653.7,469.4 656.5,469.3 C659.3,469.2 665.6,469.0 668.4,468.9 C671.1,468.8 677.5,468.5 680.2,468.4 C683.0,468.2 689.3,468.0 692.1,467.9 C694.9,467.8 701.2,467.5 703.9,467.5 C706.7,467.4 713.0,467.3 715.8,467.3 C718.6,467.3 724.9,467.3 727.7,467.3 C730.4,467.4 736.8,467.5 739.5,467.6 C742.3,467.7 748.6,467.9 751.4,468.0 C754.2,468.1 760.5,468.4 763.3,468.6 C766.0,468.7 772.4,469.0 775.1,469.1 C777.9,469.2 784.2,469.4 787.0,469.4 C789.8,469.5 796.1,469.6 798.9,469.6 C801.6,469.6 808.0,469.5 810.7,469.6 C813.5,469.7 819.8,470.1 822.6,470.2 C825.4,470.4 831.7,470.6 834.4,470.7 C837.2,470.8 844.9,471.1 846.3,471.1"/><path d="M134.5,417.0 L146.4,357.9 L158.2,366.1"/><path d="M158.2,366.1 C159.6,366.1 167.3,366.1 170.1,366.1 C172.9,366.1 179.2,366.2 182.0,366.2 C184.7,366.2 191.0,366.1 193.8,365.9 C196.6,365.7 202.9,365.1 205.7,364.8 C208.4,364.4 214.8,363.2 217.5,362.7 C220.3,362.2 226.6,361.0 229.4,360.4 C232.2,359.9 238.5,358.7 241.3,358.1 C244.0,357.6 250.4,356.5 253.1,355.8 C255.9,355.1 262.2,353.2 265.0,352.1 C267.8,351.0 274.1,348.0 276.9,346.3 C279.6,344.6 286.0,340.7 288.7,337.8 C291.5,335.0 297.8,327.2 300.6,321.8 C303.4,316.4 309.7,299.9 312.5,291.3 C315.2,282.7 321.5,258.8 324.3,248.4 C327.1,238.0 333.4,213.3 336.2,202.4 C338.9,191.5 345.3,165.3 348.0,154.9 C350.8,144.5 357.1,120.6 359.9,113.6 C362.7,106.5 369.0,95.8 371.8,94.5 C374.5,93.2 380.9,97.6 383.6,102.5 C386.4,107.5 392.7,127.0 395.5,137.0 C398.3,147.1 404.6,174.9 407.4,188.8 C410.1,202.7 416.5,240.2 419.2,256.1 C422.0,272.1 428.3,312.1 431.1,325.6 C433.9,339.1 440.2,362.1 443.0,371.9 C445.7,381.7 452.0,402.1 454.8,409.7 C457.6,417.3 463.9,431.8 466.7,436.9 C469.4,442.0 475.8,450.9 478.5,453.7 C481.3,456.6 487.6,460.1 490.4,461.3 C493.2,462.5 499.5,463.3 502.3,463.9 C505.0,464.6 511.4,466.4 514.1,466.9 C516.9,467.5 523.2,468.4 526.0,468.8 C528.8,469.2 535.1,470.2 537.9,470.5 C540.6,470.9 547.0,471.9 549.7,472.0 C552.5,472.1 558.8,471.6 561.6,471.5 C564.4,471.4 570.7,471.1 573.4,471.0 C576.2,470.9 582.5,470.6 585.3,470.5 C588.1,470.4 594.4,470.3 597.2,470.2 C599.9,470.2 606.3,470.1 609.0,470.2 C611.8,470.2 618.1,470.3 620.9,470.3 C623.7,470.4 630.0,470.6 632.8,470.7 C635.5,470.8 641.9,471.1 644.6,471.2 C647.4,471.3 653.7,471.6 656.5,471.7 C659.3,471.8 665.6,472.1 668.4,472.2 C671.1,472.2 677.5,472.4 680.2,472.4 C683.0,472.5 689.3,472.5 692.1,472.5 C694.9,472.5 701.2,472.4 703.9,472.3 C706.7,472.3 713.0,472.1 715.8,472.0 C718.6,471.9 724.9,471.6 727.7,471.5 C730.4,471.4 736.8,471.1 739.5,471.0 C742.3,470.8 748.6,470.6 751.4,470.5 C754.2,470.4 760.5,470.3 763.3,470.2 C766.0,470.2 772.4,470.1 775.1,470.2 C777.9,470.2 784.2,470.3 787.0,470.3 C789.8,470.4 796.1,470.6 798.9,470.7 C801.6,470.8 808.0,470.9 810.7,471.2 C813.5,471.5 819.8,472.6 822.6,473.0 C825.4,473.4 831.7,474.4 834.4,474.8 C837.2,475.1 844.9,476.2 846.3,476.3"/><path d="M134.5,412.8 L146.4,359.2 L158.2,367.3"/><path d="M158.2,367.3 C159.6,367.3 167.3,367.3 170.1,367.3 C172.9,367.3 179.2,367.4 182.0,367.4 C184.7,367.4 191.0,367.3 193.8,367.1 C196.6,366.9 202.9,366.3 205.7,365.9 C208.4,365.6 214.8,364.4 217.5,363.9 C220.3,363.4 226.6,362.2 229.4,361.7 C232.2,361.1 238.5,359.9 241.3,359.4 C244.0,358.9 250.4,357.8 253.1,357.1 C255.9,356.4 262.2,354.6 265.0,353.5 C267.8,352.4 274.1,349.5 276.9,347.9 C279.6,346.2 286.0,342.4 288.7,339.6 C291.5,336.9 297.8,329.5 300.6,324.3 C303.4,319.1 309.7,303.4 312.5,295.2 C315.2,286.9 321.5,263.6 324.3,253.4 C327.1,243.3 333.4,219.0 336.2,208.2 C338.9,197.4 345.3,171.7 348.0,161.3 C350.8,150.8 357.1,126.3 359.9,118.9 C362.7,111.5 369.0,99.6 371.8,97.9 C374.5,96.2 380.9,99.5 383.6,104.0 C386.4,108.6 392.7,126.9 395.5,136.7 C398.3,146.5 404.6,174.3 407.4,188.0 C410.1,201.6 416.5,237.8 419.2,253.5 C422.0,269.3 428.3,309.2 431.1,322.9 C433.9,336.6 440.2,360.9 443.0,371.0 C445.7,381.0 452.0,401.3 454.8,408.9 C457.6,416.5 463.9,431.0 466.7,436.2 C469.4,441.4 475.8,450.5 478.5,453.4 C481.3,456.3 487.6,459.9 490.4,461.2 C493.2,462.4 499.5,463.4 502.3,463.9 C505.0,464.4 511.4,465.3 514.1,465.6 C516.9,465.9 523.2,466.0 526.0,466.1 C528.8,466.3 535.1,466.6 537.9,466.8 C540.6,467.0 547.0,467.6 549.7,467.8 C552.5,467.9 558.8,468.1 561.6,468.3 C564.4,468.4 570.7,468.7 573.4,468.8 C576.2,468.9 582.5,469.1 585.3,469.2 C588.1,469.3 594.4,469.4 597.2,469.4 C599.9,469.5 606.3,469.4 609.0,469.4 C611.8,469.4 618.1,469.3 620.9,469.2 C623.7,469.1 630.0,468.9 632.8,468.8 C635.5,468.7 641.9,468.4 644.6,468.3 C647.4,468.1 653.7,467.9 656.5,467.7 C659.3,467.6 665.6,467.4 668.4,467.3 C671.1,467.3 677.5,467.1 680.2,467.1 C683.0,467.1 689.3,467.1 692.1,467.1 C694.9,467.1 701.2,467.3 703.9,467.4 C706.7,467.4 713.0,467.7 715.8,467.8 C718.6,467.9 724.9,468.2 727.7,468.3 C730.4,468.4 736.8,468.7 739.5,468.8 C742.3,468.9 748.6,469.1 751.4,469.2 C754.2,469.3 760.5,469.4 763.3,469.4 C766.0,469.5 772.4,469.4 775.1,469.4 C777.9,469.4 784.2,469.3 787.0,469.2 C789.8,469.1 796.1,468.9 798.9,468.8 C801.6,468.6 808.0,468.4 810.7,468.2 C813.5,468.1 819.8,467.8 822.6,467.6 C825.4,467.5 831.7,467.2 834.4,467.1 C837.2,467.0 844.9,466.8 846.3,466.8"/><path d="M134.5,412.4 L146.4,360.4 L158.2,368.1"/><path d="M158.2,368.1 C159.6,368.1 167.3,368.4 170.1,368.5 C172.9,368.5 179.2,368.6 182.0,368.6 C184.7,368.6 191.0,368.6 193.8,368.5 C196.6,368.3 202.9,367.9 205.7,367.6 C208.4,367.3 214.8,366.2 217.5,365.7 C220.3,365.2 226.6,363.9 229.4,363.4 C232.2,362.8 238.5,361.7 241.3,361.1 C244.0,360.6 250.4,359.4 253.1,358.8 C255.9,358.2 262.2,356.7 265.0,355.7 C267.8,354.7 274.1,351.9 276.9,350.4 C279.6,348.9 286.0,345.2 288.7,342.7 C291.5,340.2 297.8,333.7 300.6,329.0 C303.4,324.3 309.7,310.3 312.5,302.6 C315.2,294.9 321.5,272.7 324.3,262.8 C327.1,252.8 333.4,228.3 336.2,217.6 C338.9,206.8 345.3,181.3 348.0,170.7 C350.8,160.2 357.1,135.2 359.9,127.1 C362.7,119.1 369.0,104.7 371.8,101.8 C374.5,98.9 380.9,99.2 383.6,102.4 C386.4,105.6 392.7,120.6 395.5,129.3 C398.3,137.9 404.6,164.4 407.4,176.6 C410.1,188.9 416.5,219.7 419.2,234.3 C422.0,248.9 428.3,287.6 431.1,301.7 C433.9,315.8 440.2,344.4 443.0,355.2 C445.7,366.0 452.0,386.4 454.8,394.6 C457.6,402.8 463.9,419.2 466.7,425.3 C469.4,431.4 475.8,443.1 478.5,447.0 C481.3,450.9 487.6,456.6 490.4,458.5 C493.2,460.3 499.5,462.2 502.3,462.9 C505.0,463.7 511.4,464.6 514.1,464.9 C516.9,465.2 523.2,465.4 526.0,465.5 C528.8,465.5 535.1,465.3 537.9,465.2 C540.6,465.1 547.0,464.9 549.7,464.8 C552.5,464.7 558.8,464.5 561.6,464.5 C564.4,464.4 570.7,464.3 573.4,464.3 C576.2,464.3 582.5,464.4 585.3,464.5 C588.1,464.5 594.4,464.7 597.2,464.8 C599.9,464.9 606.3,465.2 609.0,465.3 C611.8,465.4 618.1,465.7 620.9,465.8 C623.7,465.9 630.0,466.2 632.8,466.3 C635.5,466.4 641.9,466.6 644.6,466.6 C647.4,466.7 653.7,466.7 656.5,466.7 C659.3,466.7 665.6,466.6 668.4,466.6 C671.1,466.5 677.5,466.3 680.2,466.2 C683.0,466.1 689.3,465.9 692.1,465.8 C694.9,465.6 701.2,465.3 703.9,465.2 C706.7,465.1 713.0,464.9 715.8,464.8 C718.6,464.7 724.9,464.5 727.7,464.4 C730.4,464.4 736.8,464.3 739.5,464.3 C742.3,464.4 748.6,464.4 751.4,464.5 C754.2,464.5 760.5,464.7 763.3,464.8 C766.0,464.9 772.4,465.2 775.1,465.3 C777.9,465.4 784.2,465.7 787.0,465.8 C789.8,466.0 796.1,466.2 798.9,466.3 C801.6,466.4 808.0,466.7 810.7,466.6 C813.5,466.5 819.8,465.9 822.6,465.6 C825.4,465.3 831.7,464.7 834.4,464.4 C837.2,464.0 844.9,463.1 846.3,462.9"/><path d="M134.5,420.4 L146.4,361.7 L158.2,369.6"/><path d="M158.2,369.6 C159.6,369.6 167.3,369.6 170.1,369.6 C172.9,369.7 179.2,369.8 182.0,369.8 C184.7,369.8 191.0,369.8 193.8,369.6 C196.6,369.5 202.9,369.1 205.7,368.7 C208.4,368.4 214.8,367.3 217.5,366.8 C220.3,366.3 226.6,365.0 229.4,364.5 C232.2,363.9 238.5,362.7 241.3,362.2 C244.0,361.6 250.4,360.5 253.1,359.8 C255.9,359.2 262.2,357.5 265.0,356.5 C267.8,355.5 274.1,352.6 276.9,351.0 C279.6,349.4 286.0,345.6 288.7,343.0 C291.5,340.3 297.8,333.1 300.6,328.1 C303.4,323.0 309.7,307.8 312.5,299.5 C315.2,291.3 321.5,267.8 324.3,257.5 C327.1,247.3 333.4,222.4 336.2,211.5 C338.9,200.6 345.3,174.4 348.0,164.0 C350.8,153.6 357.1,129.5 359.9,122.3 C362.7,115.2 369.0,103.9 371.8,102.9 C374.5,101.8 380.9,107.2 383.6,113.3 C386.4,119.5 392.7,143.5 395.5,155.3 C398.3,167.1 404.6,198.5 407.4,214.6 C410.1,230.7 416.5,276.8 419.2,293.4 C422.0,310.0 428.3,344.3 431.1,357.0 C433.9,369.7 440.2,393.1 443.0,402.1 C445.7,411.1 452.0,428.2 454.8,434.2 C457.6,440.2 463.9,450.3 466.7,453.5 C469.4,456.7 475.8,460.5 478.5,461.8 C481.3,463.0 487.6,463.9 490.4,464.3 C493.2,464.7 499.5,464.8 502.3,465.2 C505.0,465.5 511.4,466.7 514.1,467.2 C516.9,467.7 523.2,468.9 526.0,469.4 C528.8,469.9 535.1,471.1 537.9,471.7 C540.6,472.2 547.0,473.6 549.7,473.8 C552.5,474.0 558.8,473.6 561.6,473.6 C564.4,473.5 570.7,473.2 573.4,473.1 C576.2,473.0 582.5,472.7 585.3,472.6 C588.1,472.5 594.4,472.2 597.2,472.1 C599.9,472.0 606.3,471.8 609.0,471.7 C611.8,471.6 618.1,471.5 620.9,471.5 C623.7,471.5 630.0,471.5 632.8,471.5 C635.5,471.5 641.9,471.7 644.6,471.8 C647.4,471.8 653.7,472.1 656.5,472.2 C659.3,472.3 665.6,472.6 668.4,472.7 C671.1,472.8 677.5,473.1 680.2,473.2 C683.0,473.3 689.3,473.6 692.1,473.6 C694.9,473.7 701.2,473.8 703.9,473.8 C706.7,473.8 713.0,473.8 715.8,473.8 C718.6,473.8 724.9,473.6 727.7,473.5 C730.4,473.5 736.8,473.2 739.5,473.1 C742.3,473.0 748.6,472.7 751.4,472.6 C754.2,472.5 760.5,472.2 763.3,472.1 C766.0,472.0 772.4,471.8 775.1,471.7 C777.9,471.6 784.2,471.5 787.0,471.5 C789.8,471.5 796.1,471.5 798.9,471.5 C801.6,471.6 808.0,471.8 810.7,471.8 C813.5,471.8 819.8,471.4 822.6,471.3 C825.4,471.2 831.7,471.1 834.4,471.0 C837.2,470.9 844.9,470.6 846.3,470.6"/><path d="M134.5,425.5 L146.4,362.9 L158.2,370.5"/><path d="M158.2,370.5 C159.6,370.6 167.3,370.8 170.1,370.8 C172.9,370.9 179.2,370.9 182.0,370.9 C184.7,371.0 191.0,371.0 193.8,370.9 C196.6,370.9 202.9,370.6 205.7,370.3 C208.4,370.1 214.8,369.2 217.5,368.7 C220.3,368.3 226.6,366.9 229.4,366.4 C232.2,365.9 238.5,364.7 241.3,364.2 C244.0,363.6 250.4,362.3 253.1,361.8 C255.9,361.2 262.2,360.0 265.0,359.1 C267.8,358.2 274.1,355.6 276.9,354.2 C279.6,352.7 286.0,349.2 288.7,346.9 C291.5,344.6 297.8,338.7 300.6,334.3 C303.4,330.0 309.7,317.2 312.5,309.7 C315.2,302.3 321.5,280.5 324.3,270.6 C327.1,260.7 333.4,235.6 336.2,224.7 C338.9,213.9 345.3,188.0 348.0,177.4 C350.8,166.7 357.1,141.5 359.9,133.4 C362.7,125.3 369.0,110.2 371.8,107.6 C374.5,105.1 380.9,106.8 383.6,111.7 C386.4,116.7 392.7,138.6 395.5,149.9 C398.3,161.2 404.6,192.9 407.4,208.8 C410.1,224.6 416.5,269.1 419.2,285.9 C422.0,302.7 428.3,339.9 431.1,353.1 C433.9,366.3 440.2,389.7 443.0,399.0 C445.7,408.3 452.0,426.6 454.8,432.9 C457.6,439.2 463.9,449.6 466.7,453.0 C469.4,456.3 475.8,460.3 478.5,461.6 C481.3,462.9 487.6,463.9 490.4,464.3 C493.2,464.7 499.5,465.1 502.3,465.2 C505.0,465.3 511.4,465.4 514.1,465.4 C516.9,465.4 523.2,465.4 526.0,465.4 C528.8,465.4 535.1,465.4 537.9,465.4 C540.6,465.4 547.0,465.5 549.7,465.6 C552.5,465.6 558.8,465.8 561.6,465.9 C564.4,466.0 570.7,466.2 573.4,466.4 C576.2,466.5 582.5,466.8 585.3,466.9 C588.1,467.0 594.4,467.3 597.2,467.4 C599.9,467.5 606.3,467.7 609.0,467.7 C611.8,467.8 618.1,467.9 620.9,467.9 C623.7,467.9 630.0,467.8 632.8,467.8 C635.5,467.7 641.9,467.5 644.6,467.4 C647.4,467.4 653.7,467.1 656.5,467.0 C659.3,466.9 665.6,466.6 668.4,466.4 C671.1,466.3 677.5,466.1 680.2,466.0 C683.0,465.9 689.3,465.7 692.1,465.6 C694.9,465.6 701.2,465.5 703.9,465.5 C706.7,465.5 713.0,465.5 715.8,465.6 C718.6,465.6 724.9,465.8 727.7,465.9 C730.4,466.0 736.8,466.3 739.5,466.4 C742.3,466.5 748.6,466.8 751.4,466.9 C754.2,467.0 760.5,467.3 763.3,467.4 C766.0,467.5 772.4,467.7 775.1,467.7 C777.9,467.8 784.2,467.9 787.0,467.9 C789.8,467.9 796.1,467.8 798.9,467.8 C801.6,467.7 808.0,467.4 810.7,467.4 C813.5,467.5 819.8,468.1 822.6,468.3 C825.4,468.5 831.7,469.0 834.4,469.2 C837.2,469.4 844.9,470.0 846.3,470.1"/><path d="M134.5,416.3 L146.4,364.2 L158.2,371.7"/><path d="M158.2,371.7 C159.6,371.7 167.3,372.0 170.1,372.0 C172.9,372.1 179.2,372.1 182.0,372.1 C184.7,372.1 191.0,372.2 193.8,372.1 C196.6,372.1 202.9,371.8 205.7,371.6 C208.4,371.3 214.8,370.5 217.5,370.0 C220.3,369.6 226.6,368.2 229.4,367.7 C232.2,367.2 238.5,366.0 241.3,365.5 C244.0,364.9 250.4,363.6 253.1,363.0 C255.9,362.5 262.2,361.4 265.0,360.5 C267.8,359.6 274.1,357.0 276.9,355.6 C279.6,354.2 286.0,350.7 288.7,348.4 C291.5,346.2 297.8,340.4 300.6,336.1 C303.4,331.9 309.7,319.3 312.5,311.9 C315.2,304.6 321.5,283.0 324.3,273.1 C327.1,263.2 333.4,238.0 336.2,227.2 C338.9,216.3 345.3,190.5 348.0,179.9 C350.8,169.3 357.1,144.2 359.9,136.0 C362.7,127.9 369.0,112.8 371.8,110.2 C374.5,107.6 380.9,109.0 383.6,113.5 C386.4,118.1 392.7,138.6 395.5,149.3 C398.3,160.0 404.6,190.3 407.4,205.3 C410.1,220.3 416.5,261.3 419.2,277.8 C422.0,294.2 428.3,333.1 431.1,346.3 C433.9,359.6 440.2,382.1 443.0,391.4 C445.7,400.7 452.0,419.4 454.8,426.3 C457.6,433.1 463.9,446.0 466.7,449.9 C469.4,453.9 475.8,458.4 478.5,460.0 C481.3,461.6 487.6,463.1 490.4,463.7 C493.2,464.3 499.5,464.7 502.3,465.1 C505.0,465.4 511.4,466.4 514.1,466.7 C516.9,467.1 523.2,467.8 526.0,468.1 C528.8,468.4 535.1,469.1 537.9,469.3 C540.6,469.5 547.0,470.1 549.7,470.2 C552.5,470.2 558.8,469.8 561.6,469.6 C564.4,469.5 570.7,469.3 573.4,469.2 C576.2,469.2 582.5,469.0 585.3,469.0 C588.1,469.0 594.4,469.0 597.2,469.0 C599.9,469.0 606.3,469.1 609.0,469.2 C611.8,469.3 618.1,469.5 620.9,469.6 C623.7,469.7 630.0,470.0 632.8,470.1 C635.5,470.2 641.9,470.5 644.6,470.6 C647.4,470.7 653.7,471.0 656.5,471.1 C659.3,471.1 665.6,471.3 668.4,471.3 C671.1,471.3 677.5,471.3 680.2,471.3 C683.0,471.3 689.3,471.1 692.1,471.1 C694.9,471.0 701.2,470.8 703.9,470.7 C706.7,470.6 713.0,470.3 715.8,470.1 C718.6,470.0 724.9,469.7 727.7,469.6 C730.4,469.5 736.8,469.3 739.5,469.2 C742.3,469.1 748.6,469.0 751.4,469.0 C754.2,469.0 760.5,469.0 763.3,469.0 C766.0,469.0 772.4,469.1 775.1,469.2 C777.9,469.3 784.2,469.5 787.0,469.6 C789.8,469.7 796.1,470.0 798.9,470.1 C801.6,470.3 808.0,470.4 810.7,470.7 C813.5,470.9 819.8,471.9 822.6,472.2 C825.4,472.6 831.7,473.3 834.4,473.6 C837.2,473.9 844.9,474.7 846.3,474.8"/><path d="M134.5,414.0 L146.4,365.4 L158.2,373.2"/><path d="M158.2,373.2 C159.6,373.2 167.3,373.2 170.1,373.2 C172.9,373.2 179.2,373.3 182.0,373.3 C184.7,373.3 191.0,373.4 193.8,373.3 C196.6,373.2 202.9,372.9 205.7,372.6 C208.4,372.3 214.8,371.4 217.5,370.9 C220.3,370.4 226.6,369.0 229.4,368.5 C232.2,368.0 238.5,366.8 241.3,366.2 C244.0,365.7 250.4,364.5 253.1,363.8 C255.9,363.2 262.2,361.8 265.0,360.9 C267.8,359.9 274.1,357.2 276.9,355.6 C279.6,354.1 286.0,350.4 288.7,347.9 C291.5,345.3 297.8,338.6 300.6,333.8 C303.4,329.0 309.7,314.5 312.5,306.4 C315.2,298.4 321.5,275.0 324.3,264.7 C327.1,254.4 333.4,229.1 336.2,218.2 C338.9,207.2 345.3,181.0 348.0,170.8 C350.8,160.5 357.1,137.1 359.9,130.3 C362.7,123.5 369.0,113.7 371.8,112.6 C374.5,111.5 380.9,116.5 383.6,120.8 C386.4,125.2 392.7,141.3 395.5,149.9 C398.3,158.5 404.6,183.1 407.4,194.6 C410.1,206.0 416.5,234.9 419.2,248.2 C422.0,261.6 428.3,296.2 431.1,309.0 C433.9,321.9 440.2,348.5 443.0,358.4 C445.7,368.3 452.0,386.6 454.8,394.1 C457.6,401.6 463.9,416.8 466.7,422.5 C469.4,428.3 475.8,439.3 478.5,443.2 C481.3,447.0 487.6,453.6 490.4,455.7 C493.2,457.9 499.5,460.5 502.3,461.7 C505.0,462.8 511.4,464.7 514.1,465.4 C516.9,466.0 523.2,467.0 526.0,467.4 C528.8,467.8 535.1,468.6 537.9,469.0 C540.6,469.4 547.0,470.5 549.7,470.8 C552.5,471.0 558.8,471.2 561.6,471.3 C564.4,471.4 570.7,471.6 573.4,471.6 C576.2,471.7 582.5,471.8 585.3,471.8 C588.1,471.8 594.4,471.8 597.2,471.8 C599.9,471.7 606.3,471.6 609.0,471.5 C611.8,471.4 618.1,471.1 620.9,471.0 C623.7,470.9 630.0,470.6 632.8,470.5 C635.5,470.4 641.9,470.1 644.6,470.0 C647.4,469.9 653.7,469.7 656.5,469.6 C659.3,469.6 665.6,469.5 668.4,469.5 C671.1,469.4 677.5,469.5 680.2,469.5 C683.0,469.6 689.3,469.7 692.1,469.8 C694.9,469.9 701.2,470.2 703.9,470.3 C706.7,470.4 713.0,470.7 715.8,470.8 C718.6,470.9 724.9,471.2 727.7,471.3 C730.4,471.4 736.8,471.6 739.5,471.7 C742.3,471.7 748.6,471.8 751.4,471.8 C754.2,471.8 760.5,471.8 763.3,471.7 C766.0,471.7 772.4,471.5 775.1,471.5 C777.9,471.4 784.2,471.1 787.0,471.0 C789.8,470.9 796.1,470.6 798.9,470.5 C801.6,470.4 808.0,470.2 810.7,470.0 C813.5,469.7 819.8,468.5 822.6,468.1 C825.4,467.7 831.7,466.9 834.4,466.5 C837.2,466.2 844.9,465.3 846.3,465.1"/><path d="M134.5,428.1 L146.4,367.3 L158.2,375.0"/><path d="M158.2,375.0 C159.6,375.0 167.3,375.0 170.1,375.0 C172.9,375.0 179.2,375.1 182.0,375.1 C184.7,375.1 191.0,375.2 193.8,375.1 C196.6,375.1 202.9,374.8 205.7,374.6 C208.4,374.4 214.8,373.6 217.5,373.1 C220.3,372.7 226.6,371.4 229.4,370.8 C232.2,370.3 238.5,369.1 241.3,368.5 C244.0,368.0 250.4,366.7 253.1,366.1 C255.9,365.5 262.2,364.4 265.0,363.5 C267.8,362.6 274.1,359.9 276.9,358.5 C279.6,357.0 286.0,353.4 288.7,351.0 C291.5,348.6 297.8,342.4 300.6,337.8 C303.4,333.3 309.7,319.7 312.5,311.8 C315.2,304.0 321.5,281.0 324.3,270.7 C327.1,260.4 333.4,234.7 336.2,223.6 C338.9,212.5 345.3,186.0 348.0,175.6 C350.8,165.2 357.1,141.1 359.9,134.2 C362.7,127.3 369.0,117.0 371.8,116.2 C374.5,115.4 380.9,121.8 383.6,127.5 C386.4,133.3 392.7,154.7 395.5,165.3 C398.3,175.9 404.6,204.3 407.4,218.4 C410.1,232.6 416.5,271.2 419.2,286.5 C422.0,301.8 428.3,337.3 431.1,349.5 C433.9,361.7 440.2,382.4 443.0,391.1 C445.7,399.7 452.0,417.2 454.8,423.7 C457.6,430.1 463.9,442.3 466.7,446.4 C469.4,450.5 475.8,456.7 478.5,458.7 C481.3,460.7 487.6,462.6 490.4,463.3 C493.2,464.0 499.5,464.2 502.3,464.7 C505.0,465.2 511.4,466.8 514.1,467.4 C516.9,467.9 523.2,468.9 526.0,469.3 C528.8,469.8 535.1,470.7 537.9,471.0 C540.6,471.4 547.0,472.3 549.7,472.4 C552.5,472.5 558.8,472.1 561.6,472.0 C564.4,471.9 570.7,471.7 573.4,471.7 C576.2,471.6 582.5,471.5 585.3,471.6 C588.1,471.6 594.4,471.6 597.2,471.7 C599.9,471.7 606.3,471.9 609.0,472.0 C611.8,472.1 618.1,472.4 620.9,472.5 C623.7,472.6 630.0,472.9 632.8,473.1 C635.5,473.2 641.9,473.4 644.6,473.5 C647.4,473.6 653.7,473.8 656.5,473.8 C659.3,473.9 665.6,473.9 668.4,473.9 C671.1,473.9 677.5,473.8 680.2,473.8 C683.0,473.7 689.3,473.5 692.1,473.4 C694.9,473.3 701.2,473.1 703.9,472.9 C706.7,472.8 713.0,472.5 715.8,472.4 C718.6,472.3 724.9,472.0 727.7,472.0 C730.4,471.9 736.8,471.7 739.5,471.6 C742.3,471.6 748.6,471.5 751.4,471.6 C754.2,471.6 760.5,471.6 763.3,471.7 C766.0,471.8 772.4,472.0 775.1,472.1 C777.9,472.2 784.2,472.4 787.0,472.5 C789.8,472.7 796.1,473.0 798.9,473.1 C801.6,473.2 808.0,473.6 810.7,473.5 C813.5,473.5 819.8,473.0 822.6,472.9 C825.4,472.7 831.7,472.2 834.4,472.0 C837.2,471.7 844.9,471.0 846.3,470.8"/><path d="M134.5,418.3 L146.4,368.6 L158.2,376.2"/><path d="M158.2,376.2 C159.6,376.2 167.3,376.2 170.1,376.2 C172.9,376.2 179.2,376.2 182.0,376.2 C184.7,376.2 191.0,376.4 193.8,376.3 C196.6,376.3 202.9,376.1 205.7,375.9 C208.4,375.7 214.8,375.0 217.5,374.6 C220.3,374.1 226.6,372.9 229.4,372.3 C232.2,371.8 238.5,370.5 241.3,370.0 C244.0,369.4 250.4,368.1 253.1,367.5 C255.9,367.0 262.2,366.0 265.0,365.2 C267.8,364.3 274.1,361.7 276.9,360.3 C279.6,358.9 286.0,355.4 288.7,353.1 C291.5,350.8 297.8,345.0 300.6,340.6 C303.4,336.3 309.7,323.4 312.5,315.8 C315.2,308.1 321.5,285.6 324.3,275.4 C327.1,265.2 333.4,239.3 336.2,228.2 C338.9,217.1 345.3,190.8 348.0,180.3 C350.8,169.8 357.1,145.3 359.9,138.3 C362.7,131.2 369.0,120.9 371.8,119.7 C374.5,118.5 380.9,123.6 383.6,127.9 C386.4,132.2 392.7,148.1 395.5,156.6 C398.3,165.1 404.6,189.4 407.4,200.7 C410.1,212.0 416.5,240.1 419.2,253.1 C422.0,266.2 428.3,300.0 431.1,312.6 C433.9,325.2 440.2,351.6 443.0,361.3 C445.7,371.0 452.0,388.8 454.8,396.1 C457.6,403.3 463.9,418.1 466.7,423.7 C469.4,429.2 475.8,439.9 478.5,443.6 C481.3,447.4 487.6,453.8 490.4,455.9 C493.2,458.0 499.5,460.7 502.3,461.7 C505.0,462.8 511.4,464.2 514.1,464.7 C516.9,465.2 523.2,465.7 526.0,466.0 C528.8,466.3 535.1,466.7 537.9,466.9 C540.6,467.2 547.0,467.8 549.7,468.0 C552.5,468.2 558.8,468.4 561.6,468.5 C564.4,468.5 570.7,468.7 573.4,468.7 C576.2,468.7 582.5,468.8 585.3,468.7 C588.1,468.7 594.4,468.6 597.2,468.5 C599.9,468.4 606.3,468.2 609.0,468.1 C611.8,468.0 618.1,467.7 620.9,467.6 C623.7,467.5 630.0,467.2 632.8,467.1 C635.5,467.0 641.9,466.7 644.6,466.7 C647.4,466.6 653.7,466.4 656.5,466.4 C659.3,466.4 665.6,466.4 668.4,466.4 C671.1,466.4 677.5,466.5 680.2,466.6 C683.0,466.7 689.3,466.9 692.1,467.0 C694.9,467.1 701.2,467.4 703.9,467.5 C706.7,467.6 713.0,467.9 715.8,468.0 C718.6,468.2 724.9,468.4 727.7,468.5 C730.4,468.5 736.8,468.7 739.5,468.7 C742.3,468.7 748.6,468.7 751.4,468.7 C754.2,468.7 760.5,468.6 763.3,468.5 C766.0,468.4 772.4,468.2 775.1,468.1 C777.9,468.0 784.2,467.7 787.0,467.6 C789.8,467.5 796.1,467.2 798.9,467.1 C801.6,467.0 808.0,466.6 810.7,466.7 C813.5,466.7 819.8,467.2 822.6,467.4 C825.4,467.6 831.7,468.1 834.4,468.4 C837.2,468.6 844.9,469.5 846.3,469.6"/><path d="M134.5,415.9 L146.4,370.4 L158.2,378.0"/><path d="M158.2,378.0 C159.6,378.0 167.3,378.0 170.1,378.0 C172.9,378.0 179.2,378.0 182.0,378.0 C184.7,378.0 191.0,378.2 193.8,378.1 C196.6,378.1 202.9,378.1 205.7,377.9 C208.4,377.7 214.8,377.2 217.5,376.8 C220.3,376.4 226.6,375.2 229.4,374.6 C232.2,374.1 238.5,372.8 241.3,372.2 C244.0,371.7 250.4,370.3 253.1,369.8 C255.9,369.2 262.2,368.2 265.0,367.4 C267.8,366.6 274.1,364.4 276.9,363.1 C279.6,361.8 286.0,358.4 288.7,356.3 C291.5,354.1 297.8,348.8 300.6,344.7 C303.4,340.6 309.7,328.6 312.5,321.3 C315.2,313.9 321.5,291.9 324.3,281.7 C327.1,271.5 333.4,245.3 336.2,234.1 C338.9,222.9 345.3,196.4 348.0,185.7 C350.8,175.1 357.1,149.9 359.9,142.6 C362.7,135.3 369.0,124.4 371.8,123.2 C374.5,122.0 380.9,127.7 383.6,132.5 C386.4,137.3 392.7,155.2 395.5,164.5 C398.3,173.7 404.6,199.7 407.4,211.9 C410.1,224.2 416.5,255.8 419.2,269.7 C422.0,283.6 428.3,318.6 431.1,331.0 C433.9,343.4 440.2,366.8 443.0,376.1 C445.7,385.3 452.0,403.3 454.8,410.2 C457.6,417.2 463.9,430.5 466.7,435.4 C469.4,440.3 475.8,449.2 478.5,452.1 C481.3,455.0 487.6,458.9 490.4,460.3 C493.2,461.6 499.5,462.9 502.3,463.6 C505.0,464.4 511.4,466.1 514.1,466.6 C516.9,467.2 523.2,468.1 526.0,468.4 C528.8,468.8 535.1,469.3 537.9,469.6 C540.6,469.8 547.0,470.4 549.7,470.5 C552.5,470.6 558.8,470.2 561.6,470.1 C564.4,470.1 570.7,470.0 573.4,469.9 C576.2,469.9 582.5,470.0 585.3,470.0 C588.1,470.0 594.4,470.2 597.2,470.3 C599.9,470.4 606.3,470.6 609.0,470.7 C611.8,470.8 618.1,471.1 620.9,471.2 C623.7,471.4 630.0,471.6 632.8,471.7 C635.5,471.8 641.9,472.1 644.6,472.1 C647.4,472.2 653.7,472.3 656.5,472.3 C659.3,472.3 665.6,472.3 668.4,472.2 C671.1,472.2 677.5,472.0 680.2,472.0 C683.0,471.9 689.3,471.6 692.1,471.5 C694.9,471.4 701.2,471.1 703.9,471.0 C706.7,470.9 713.0,470.6 715.8,470.5 C718.6,470.4 724.9,470.2 727.7,470.1 C730.4,470.1 736.8,470.0 739.5,469.9 C742.3,469.9 748.6,470.0 751.4,470.0 C754.2,470.0 760.5,470.2 763.3,470.3 C766.0,470.4 772.4,470.6 775.1,470.7 C777.9,470.8 784.2,471.1 787.0,471.3 C789.8,471.4 796.1,471.7 798.9,471.8 C801.6,471.9 808.0,472.2 810.7,472.1 C813.5,472.0 819.8,471.1 822.6,470.8 C825.4,470.5 831.7,469.6 834.4,469.2 C837.2,468.9 844.9,467.7 846.3,467.5"/><path d="M134.5,420.1 L146.4,371.7 L158.2,379.2"/><path d="M158.2,379.2 C159.6,379.2 167.3,379.2 170.1,379.2 C172.9,379.2 179.2,379.2 182.0,379.2 C184.7,379.2 191.0,379.3 193.8,379.3 C196.6,379.3 202.9,379.3 205.7,379.1 C208.4,379.0 214.8,378.4 217.5,378.0 C220.3,377.6 226.6,376.4 229.4,375.9 C232.2,375.4 238.5,374.0 241.3,373.5 C244.0,372.9 250.4,371.6 253.1,371.0 C255.9,370.5 262.2,369.4 265.0,368.6 C267.8,367.9 274.1,365.7 276.9,364.4 C279.6,363.1 286.0,359.9 288.7,357.7 C291.5,355.6 297.8,350.4 300.6,346.4 C303.4,342.3 309.7,330.5 312.5,323.3 C315.2,316.0 321.5,294.2 324.3,284.1 C327.1,274.0 333.4,247.7 336.2,236.6 C338.9,225.4 345.3,199.1 348.0,188.5 C350.8,177.9 357.1,153.1 359.9,145.9 C362.7,138.7 369.0,128.1 371.8,126.8 C374.5,125.6 380.9,130.9 383.6,135.1 C386.4,139.4 392.7,155.0 395.5,163.4 C398.3,171.7 404.6,195.8 407.4,206.8 C410.1,217.8 416.5,245.0 419.2,257.7 C422.0,270.4 428.3,303.2 431.1,315.6 C433.9,328.0 440.2,354.1 443.0,363.7 C445.7,373.2 452.0,390.4 454.8,397.5 C457.6,404.6 463.9,418.9 466.7,424.3 C469.4,429.7 475.8,439.9 478.5,443.6 C481.3,447.3 487.6,453.7 490.4,455.8 C493.2,457.9 499.5,460.5 502.3,461.6 C505.0,462.8 511.4,464.7 514.1,465.4 C516.9,466.0 523.2,467.0 526.0,467.5 C528.8,467.9 535.1,468.8 537.9,469.2 C540.6,469.6 547.0,470.7 549.7,470.9 C552.5,471.2 558.8,471.2 561.6,471.2 C564.4,471.3 570.7,471.3 573.4,471.3 C576.2,471.3 582.5,471.3 585.3,471.2 C588.1,471.2 594.4,471.0 597.2,470.9 C599.9,470.8 606.3,470.5 609.0,470.4 C611.8,470.3 618.1,470.0 620.9,469.9 C623.7,469.8 630.0,469.5 632.8,469.4 C635.5,469.3 641.9,469.1 644.6,469.1 C647.4,469.0 653.7,469.0 656.5,469.0 C659.3,469.0 665.6,469.1 668.4,469.1 C671.1,469.2 677.5,469.4 680.2,469.4 C683.0,469.5 689.3,469.8 692.1,469.9 C694.9,470.0 701.2,470.3 703.9,470.5 C706.7,470.6 713.0,470.8 715.8,470.9 C718.6,471.0 724.9,471.2 727.7,471.2 C730.4,471.3 736.8,471.4 739.5,471.3 C742.3,471.3 748.6,471.3 751.4,471.2 C754.2,471.2 760.5,471.0 763.3,470.9 C766.0,470.8 772.4,470.5 775.1,470.4 C777.9,470.3 784.2,470.0 787.0,469.9 C789.8,469.7 796.1,469.5 798.9,469.4 C801.6,469.3 808.0,469.3 810.7,469.1 C813.5,468.9 819.8,468.1 822.6,467.8 C825.4,467.6 831.7,467.0 834.4,466.8 C837.2,466.6 844.9,466.1 846.3,466.0"/><path d="M134.5,427.7 L146.4,373.6 L158.2,381.0"/><path d="M158.2,381.0 C159.6,381.0 167.3,381.0 170.1,381.0 C172.9,381.0 179.2,381.0 182.0,381.0 C184.7,381.0 191.0,381.1 193.8,381.1 C196.6,381.0 202.9,380.8 205.7,380.6 C208.4,380.3 214.8,379.6 217.5,379.2 C220.3,378.7 226.6,377.5 229.4,376.9 C232.2,376.4 238.5,375.2 241.3,374.6 C244.0,374.1 250.4,372.8 253.1,372.2 C255.9,371.6 262.2,370.7 265.0,369.8 C267.8,369.0 274.1,366.5 276.9,365.1 C279.6,363.7 286.0,360.3 288.7,358.0 C291.5,355.7 297.8,349.9 300.6,345.7 C303.4,341.4 309.7,328.8 312.5,321.4 C315.2,313.9 321.5,291.8 324.3,281.7 C327.1,271.7 333.4,246.1 336.2,235.3 C338.9,224.5 345.3,198.9 348.0,188.8 C350.8,178.6 357.1,155.2 359.9,148.4 C362.7,141.5 369.0,131.4 371.8,130.4 C374.5,129.5 380.9,135.4 383.6,140.3 C386.4,145.1 392.7,163.0 395.5,172.2 C398.3,181.4 404.6,207.1 407.4,219.2 C410.1,231.3 416.5,262.2 419.2,275.8 C422.0,289.3 428.3,323.3 431.1,335.4 C433.9,347.5 440.2,370.4 443.0,379.4 C445.7,388.4 452.0,405.7 454.8,412.3 C457.6,419.0 463.9,431.8 466.7,436.5 C469.4,441.2 475.8,449.8 478.5,452.6 C481.3,455.4 487.6,459.2 490.4,460.5 C493.2,461.8 499.5,463.0 502.3,463.7 C505.0,464.4 511.4,466.1 514.1,466.6 C516.9,467.1 523.2,468.0 526.0,468.3 C528.8,468.6 535.1,469.2 537.9,469.4 C540.6,469.7 547.0,470.3 549.7,470.3 C552.5,470.4 558.8,470.1 561.6,470.1 C564.4,470.0 570.7,470.0 573.4,470.0 C576.2,470.1 582.5,470.2 585.3,470.2 C588.1,470.3 594.4,470.5 597.2,470.6 C599.9,470.7 606.3,471.0 609.0,471.1 C611.8,471.3 618.1,471.5 620.9,471.7 C623.7,471.8 630.0,472.0 632.8,472.1 C635.5,472.2 641.9,472.3 644.6,472.3 C647.4,472.4 653.7,472.4 656.5,472.4 C659.3,472.4 665.6,472.2 668.4,472.2 C671.1,472.1 677.5,471.9 680.2,471.8 C683.0,471.7 689.3,471.4 692.1,471.3 C694.9,471.2 701.2,470.9 703.9,470.8 C706.7,470.6 713.0,470.4 715.8,470.3 C718.6,470.2 724.9,470.1 727.7,470.1 C730.4,470.0 736.8,470.0 739.5,470.0 C742.3,470.1 748.6,470.2 751.4,470.2 C754.2,470.3 760.5,470.5 763.3,470.6 C766.0,470.7 772.4,471.0 775.1,471.2 C777.9,471.3 784.2,471.6 787.0,471.7 C789.8,471.8 796.1,472.0 798.9,472.1 C801.6,472.2 808.0,472.4 810.7,472.4 C813.5,472.3 819.8,471.7 822.6,471.5 C825.4,471.2 831.7,470.6 834.4,470.4 C837.2,470.1 844.9,469.2 846.3,469.0"/><path d="M134.5,424.6 L146.4,378.4 L158.2,385.7"/><path d="M158.2,385.7 C159.6,385.7 167.3,385.7 170.1,385.7 C172.9,385.7 179.2,385.7 182.0,385.7 C184.7,385.8 191.0,385.9 193.8,385.8 C196.6,385.8 202.9,385.6 205.7,385.4 C208.4,385.2 214.8,384.4 217.5,384.0 C220.3,383.6 226.6,382.3 229.4,381.8 C232.2,381.2 238.5,380.0 241.3,379.4 C244.0,378.9 250.4,377.5 253.1,377.0 C255.9,376.4 262.2,375.4 265.0,374.6 C267.8,373.7 274.1,371.1 276.9,369.7 C279.6,368.3 286.0,364.7 288.7,362.4 C291.5,360.0 297.8,354.0 300.6,349.6 C303.4,345.2 309.7,332.2 312.5,324.5 C315.2,316.8 321.5,293.9 324.3,283.6 C327.1,273.3 333.4,247.2 336.2,236.1 C338.9,225.1 345.3,199.0 348.0,188.9 C350.8,178.8 357.1,156.1 359.9,149.6 C362.7,143.1 369.0,133.9 371.8,133.4 C374.5,133.0 380.9,140.0 383.6,145.4 C386.4,150.9 392.7,170.5 395.5,180.2 C398.3,190.0 404.6,216.3 407.4,228.9 C410.1,241.5 416.5,274.4 419.2,288.3 C422.0,302.2 428.3,336.3 431.1,348.0 C433.9,359.7 440.2,380.4 443.0,388.7 C445.7,397.1 452.0,413.4 454.8,419.6 C457.6,425.7 463.9,437.2 466.7,441.4 C469.4,445.5 475.8,452.9 478.5,455.3 C481.3,457.7 487.6,460.7 490.4,461.7 C493.2,462.8 499.5,463.7 502.3,464.2 C505.0,464.7 511.4,465.8 514.1,466.2 C516.9,466.6 523.2,467.3 526.0,467.5 C528.8,467.8 535.1,468.5 537.9,468.8 C540.6,469.0 547.0,469.7 549.7,469.8 C552.5,469.9 558.8,469.6 561.6,469.5 C564.4,469.4 570.7,469.1 573.4,469.0 C576.2,468.9 582.5,468.6 585.3,468.5 C588.1,468.4 594.4,468.1 597.2,468.0 C599.9,467.9 606.3,467.7 609.0,467.7 C611.8,467.6 618.1,467.5 620.9,467.5 C623.7,467.5 630.0,467.6 632.8,467.6 C635.5,467.7 641.9,467.8 644.6,467.9 C647.4,468.0 653.7,468.3 656.5,468.4 C659.3,468.5 665.6,468.8 668.4,468.9 C671.1,469.0 677.5,469.3 680.2,469.4 C683.0,469.5 689.3,469.7 692.1,469.8 C694.9,469.8 701.2,469.9 703.9,469.9 C706.7,469.9 713.0,469.8 715.8,469.8 C718.6,469.7 724.9,469.6 727.7,469.5 C730.4,469.4 736.8,469.1 739.5,469.0 C742.3,468.9 748.6,468.6 751.4,468.5 C754.2,468.4 760.5,468.1 763.3,468.0 C766.0,467.9 772.4,467.7 775.1,467.7 C777.9,467.6 784.2,467.5 787.0,467.5 C789.8,467.5 796.1,467.6 798.9,467.6 C801.6,467.7 808.0,467.8 810.7,467.9 C813.5,468.1 819.8,468.8 822.6,469.1 C825.4,469.4 831.7,470.0 834.4,470.3 C837.2,470.5 844.9,471.3 846.3,471.4"/><path d="M134.5,420.0 L146.4,379.6 L158.2,384.9"/><path d="M158.2,384.9 C159.6,385.1 167.3,386.7 170.1,386.9 C172.9,387.2 179.2,386.9 182.0,386.9 C184.7,386.9 191.0,387.0 193.8,387.0 C196.6,387.0 202.9,387.0 205.7,386.9 C208.4,386.7 214.8,386.3 217.5,386.0 C220.3,385.6 226.6,384.5 229.4,384.0 C232.2,383.5 238.5,382.1 241.3,381.6 C244.0,381.0 250.4,379.8 253.1,379.2 C255.9,378.6 262.2,377.5 265.0,376.8 C267.8,376.1 274.1,374.3 276.9,373.1 C279.6,372.0 286.0,368.9 288.7,367.2 C291.5,365.4 297.8,361.1 300.6,358.0 C303.4,354.9 309.7,346.5 312.5,340.5 C315.2,334.5 321.5,316.0 324.3,306.6 C327.1,297.3 333.4,271.3 336.2,260.4 C338.9,249.6 345.3,224.0 348.0,213.5 C350.8,203.0 357.1,178.7 359.9,170.3 C362.7,161.9 369.0,145.0 371.8,141.3 C374.5,137.6 380.9,136.3 383.6,138.3 C386.4,140.3 392.7,151.7 395.5,158.7 C398.3,165.7 404.6,188.3 407.4,198.4 C410.1,208.6 416.5,233.5 419.2,245.9 C422.0,258.3 428.3,291.5 431.1,304.6 C433.9,317.7 440.2,347.8 443.0,358.1 C445.7,368.5 452.0,386.0 454.8,393.4 C457.6,400.8 463.9,415.9 466.7,421.5 C469.4,427.1 475.8,437.8 478.5,441.7 C481.3,445.6 487.6,452.6 490.4,454.9 C493.2,457.2 499.5,460.2 502.3,461.3 C505.0,462.5 511.4,464.4 514.1,465.1 C516.9,465.7 523.2,466.4 526.0,466.8 C528.8,467.1 535.1,467.7 537.9,468.0 C540.6,468.3 547.0,469.2 549.7,469.4 C552.5,469.7 558.8,469.8 561.6,470.0 C564.4,470.1 570.7,470.3 573.4,470.4 C576.2,470.5 582.5,470.6 585.3,470.6 C588.1,470.7 594.4,470.7 597.2,470.6 C599.9,470.6 606.3,470.5 609.0,470.4 C611.8,470.3 618.1,470.1 620.9,470.0 C623.7,469.9 630.0,469.6 632.8,469.5 C635.5,469.4 641.9,469.1 644.6,469.0 C647.4,468.9 653.7,468.6 656.5,468.6 C659.3,468.5 665.6,468.4 668.4,468.3 C671.1,468.3 677.5,468.3 680.2,468.3 C683.0,468.3 689.3,468.5 692.1,468.5 C694.9,468.6 701.2,468.8 703.9,468.9 C706.7,469.0 713.0,469.3 715.8,469.5 C718.6,469.6 724.9,469.9 727.7,470.0 C730.4,470.1 736.8,470.3 739.5,470.4 C742.3,470.5 748.6,470.6 751.4,470.6 C754.2,470.7 760.5,470.7 763.3,470.6 C766.0,470.6 772.4,470.5 775.1,470.4 C777.9,470.3 784.2,470.1 787.0,470.0 C789.8,469.9 796.1,469.6 798.9,469.5 C801.6,469.4 808.0,469.1 810.7,469.0 C813.5,468.8 819.8,468.4 822.6,468.2 C825.4,468.1 831.7,467.8 834.4,467.7 C837.2,467.6 844.9,467.4 846.3,467.4"/><path d="M134.5,433.9 L146.4,380.9 L158.2,386.3"/><path d="M158.2,386.3 C159.6,386.5 167.3,387.9 170.1,388.1 C172.9,388.3 179.2,388.1 182.0,388.1 C184.7,388.1 191.0,388.2 193.8,388.2 C196.6,388.2 202.9,388.2 205.7,388.1 C208.4,388.0 214.8,387.7 217.5,387.4 C220.3,387.1 226.6,386.1 229.4,385.7 C232.2,385.2 238.5,383.8 241.3,383.2 C244.0,382.7 250.4,381.4 253.1,380.8 C255.9,380.3 262.2,379.0 265.0,378.3 C267.8,377.6 274.1,376.1 276.9,375.0 C279.6,373.9 286.0,370.9 288.7,369.1 C291.5,367.4 297.8,363.2 300.6,360.2 C303.4,357.2 309.7,349.1 312.5,343.4 C315.2,337.7 321.5,320.3 324.3,311.0 C327.1,301.7 333.4,275.0 336.2,264.0 C338.9,252.9 345.3,227.0 348.0,216.3 C350.8,205.6 357.1,181.0 359.9,172.4 C362.7,163.9 369.0,146.9 371.8,143.3 C374.5,139.6 380.9,138.2 383.6,141.4 C386.4,144.5 392.7,160.7 395.5,170.2 C398.3,179.7 404.6,209.1 407.4,222.6 C410.1,236.1 416.5,270.7 419.2,285.7 C422.0,300.8 428.3,338.7 431.1,351.5 C433.9,364.2 440.2,386.1 443.0,394.9 C445.7,403.6 452.0,420.2 454.8,426.4 C457.6,432.6 463.9,444.0 466.7,447.8 C469.4,451.7 475.8,457.7 478.5,459.5 C481.3,461.4 487.6,463.1 490.4,463.7 C493.2,464.3 499.5,464.7 502.3,465.0 C505.0,465.2 511.4,465.7 514.1,465.8 C516.9,465.9 523.2,466.0 526.0,466.0 C528.8,466.0 535.1,466.0 537.9,466.0 C540.6,466.0 547.0,465.9 549.7,465.8 C552.5,465.8 558.8,465.7 561.6,465.7 C564.4,465.7 570.7,465.8 573.4,465.8 C576.2,465.9 582.5,466.1 585.3,466.2 C588.1,466.2 594.4,466.5 597.2,466.6 C599.9,466.7 606.3,467.0 609.0,467.2 C611.8,467.3 618.1,467.5 620.9,467.6 C623.7,467.7 630.0,467.9 632.8,468.0 C635.5,468.0 641.9,468.1 644.6,468.1 C647.4,468.1 653.7,468.0 656.5,468.0 C659.3,467.9 665.6,467.7 668.4,467.6 C671.1,467.5 677.5,467.3 680.2,467.2 C683.0,467.0 689.3,466.8 692.1,466.6 C694.9,466.5 701.2,466.3 703.9,466.2 C706.7,466.1 713.0,465.9 715.8,465.8 C718.6,465.8 724.9,465.7 727.7,465.7 C730.4,465.7 736.8,465.8 739.5,465.8 C742.3,465.9 748.6,466.1 751.4,466.2 C754.2,466.3 760.5,466.5 763.3,466.6 C766.0,466.8 772.4,467.1 775.1,467.2 C777.9,467.3 784.2,467.6 787.0,467.6 C789.8,467.7 796.1,467.9 798.9,468.0 C801.6,468.0 808.0,468.0 810.7,468.1 C813.5,468.2 819.8,468.5 822.6,468.6 C825.4,468.7 831.7,468.9 834.4,468.9 C837.2,469.0 844.9,469.1 846.3,469.1"/><path d="M134.5,426.5 L146.4,382.1 L158.2,389.3"/><path d="M158.2,389.3 C159.6,389.3 167.3,389.3 170.1,389.3 C172.9,389.3 179.2,389.3 182.0,389.3 C184.7,389.3 191.0,389.4 193.8,389.4 C196.6,389.3 202.9,389.1 205.7,388.8 C208.4,388.6 214.8,387.8 217.5,387.4 C220.3,387.0 226.6,385.7 229.4,385.2 C232.2,384.7 238.5,383.4 241.3,382.9 C244.0,382.3 250.4,381.0 253.1,380.4 C255.9,379.9 262.2,378.9 265.0,378.1 C267.8,377.2 274.1,374.7 276.9,373.3 C279.6,371.9 286.0,368.4 288.7,366.0 C291.5,363.7 297.8,357.8 300.6,353.5 C303.4,349.1 309.7,336.6 312.5,329.1 C315.2,321.5 321.5,299.2 324.3,289.1 C327.1,279.0 333.4,253.2 336.2,242.4 C338.9,231.5 345.3,206.2 348.0,196.3 C350.8,186.3 357.1,163.8 359.9,157.3 C362.7,150.8 369.0,141.0 371.8,140.3 C374.5,139.7 380.9,146.5 383.6,151.9 C386.4,157.3 392.7,176.8 395.5,186.5 C398.3,196.3 404.6,222.8 407.4,235.4 C410.1,248.0 416.5,280.6 419.2,294.3 C422.0,308.1 428.3,341.8 431.1,353.3 C433.9,364.9 440.2,385.1 443.0,393.2 C445.7,401.3 452.0,416.9 454.8,422.8 C457.6,428.7 463.9,439.6 466.7,443.6 C469.4,447.5 475.8,454.3 478.5,456.4 C481.3,458.6 487.6,461.4 490.4,462.3 C493.2,463.2 499.5,464.0 502.3,464.4 C505.0,464.8 511.4,465.5 514.1,465.7 C516.9,465.9 523.2,466.1 526.0,466.2 C528.8,466.3 535.1,466.6 537.9,466.6 C540.6,466.7 547.0,466.8 549.7,466.8 C552.5,466.8 558.8,466.5 561.6,466.4 C564.4,466.3 570.7,466.0 573.4,465.9 C576.2,465.8 582.5,465.5 585.3,465.4 C588.1,465.2 594.4,465.0 597.2,464.9 C599.9,464.9 606.3,464.7 609.0,464.7 C611.8,464.7 618.1,464.7 620.9,464.7 C623.7,464.8 630.0,464.9 632.8,465.0 C635.5,465.0 641.9,465.3 644.6,465.4 C647.4,465.5 653.7,465.8 656.5,465.9 C659.3,466.0 665.6,466.3 668.4,466.4 C671.1,466.5 677.5,466.7 680.2,466.8 C683.0,466.9 689.3,467.0 692.1,467.0 C694.9,467.1 701.2,467.1 703.9,467.0 C706.7,467.0 713.0,466.9 715.8,466.8 C718.6,466.7 724.9,466.5 727.7,466.4 C730.4,466.3 736.8,466.0 739.5,465.9 C742.3,465.7 748.6,465.4 751.4,465.3 C754.2,465.2 760.5,465.0 763.3,464.9 C766.0,464.9 772.4,464.7 775.1,464.7 C777.9,464.7 784.2,464.7 787.0,464.7 C789.8,464.8 796.1,464.9 798.9,465.0 C801.6,465.1 808.0,465.4 810.7,465.4 C813.5,465.4 819.8,464.9 822.6,464.7 C825.4,464.5 831.7,464.2 834.4,464.0 C837.2,463.8 844.9,463.2 846.3,463.1"/><path d="M134.5,425.3 L146.4,383.4 L158.2,390.5"/><path d="M158.2,390.5 C159.6,390.5 167.3,390.5 170.1,390.5 C172.9,390.5 179.2,390.5 182.0,390.5 C184.7,390.5 191.0,390.6 193.8,390.6 C196.6,390.6 202.9,390.4 205.7,390.2 C208.4,390.0 214.8,389.3 217.5,388.9 C220.3,388.5 226.6,387.2 229.4,386.7 C232.2,386.2 238.5,384.9 241.3,384.3 C244.0,383.8 250.4,382.4 253.1,381.9 C255.9,381.3 262.2,380.3 265.0,379.5 C267.8,378.7 274.1,376.2 276.9,374.9 C279.6,373.5 286.0,369.9 288.7,367.6 C291.5,365.3 297.8,359.4 300.6,355.1 C303.4,350.8 309.7,338.1 312.5,330.5 C315.2,322.9 321.5,300.2 324.3,289.9 C327.1,279.6 333.4,253.4 336.2,242.4 C338.9,231.4 345.3,205.5 348.0,195.7 C350.8,185.8 357.1,164.1 359.9,158.0 C362.7,151.9 369.0,143.6 371.8,143.4 C374.5,143.1 380.9,150.6 383.6,155.9 C386.4,161.3 392.7,179.9 395.5,189.2 C398.3,198.5 404.6,223.6 407.4,235.4 C410.1,247.2 416.5,277.3 419.2,290.2 C422.0,303.2 428.3,335.1 431.1,346.4 C433.9,357.7 440.2,378.8 443.0,387.1 C445.7,395.3 452.0,411.2 454.8,417.3 C457.6,423.3 463.9,434.9 466.7,439.1 C469.4,443.4 475.8,451.2 478.5,453.8 C481.3,456.3 487.6,459.7 490.4,460.9 C493.2,462.1 499.5,463.4 502.3,463.9 C505.0,464.3 511.4,464.7 514.1,464.9 C516.9,465.1 523.2,465.2 526.0,465.2 C528.8,465.3 535.1,465.4 537.9,465.5 C540.6,465.6 547.0,466.0 549.7,466.1 C552.5,466.2 558.8,466.5 561.6,466.5 C564.4,466.6 570.7,466.8 573.4,466.9 C576.2,466.9 582.5,467.0 585.3,467.0 C588.1,467.0 594.4,466.9 597.2,466.8 C599.9,466.8 606.3,466.6 609.0,466.5 C611.8,466.4 618.1,466.1 620.9,466.0 C623.7,465.9 630.0,465.6 632.8,465.5 C635.5,465.4 641.9,465.1 644.6,465.0 C647.4,464.9 653.7,464.7 656.5,464.7 C659.3,464.7 665.6,464.6 668.4,464.6 C671.1,464.6 677.5,464.7 680.2,464.7 C683.0,464.8 689.3,465.0 692.1,465.1 C694.9,465.2 701.2,465.5 703.9,465.6 C706.7,465.7 713.0,466.0 715.8,466.1 C718.6,466.2 724.9,466.5 727.7,466.6 C730.4,466.7 736.8,466.8 739.5,466.9 C742.3,466.9 748.6,467.0 751.4,467.0 C754.2,467.0 760.5,466.9 763.3,466.8 C766.0,466.8 772.4,466.6 775.1,466.5 C777.9,466.4 784.2,466.1 787.0,466.0 C789.8,465.9 796.1,465.6 798.9,465.5 C801.6,465.3 808.0,465.0 810.7,465.0 C813.5,465.0 819.8,465.3 822.6,465.4 C825.4,465.5 831.7,465.8 834.4,466.0 C837.2,466.1 844.9,466.7 846.3,466.8"/><path d="M134.5,425.7 L146.4,384.6 L158.2,391.3"/><path d="M158.2,391.3 C159.6,391.3 167.3,391.6 170.1,391.7 C172.9,391.7 179.2,391.7 182.0,391.7 C184.7,391.7 191.0,391.8 193.8,391.8 C196.6,391.8 202.9,391.6 205.7,391.5 C208.4,391.3 214.8,390.7 217.5,390.3 C220.3,389.9 226.6,388.7 229.4,388.2 C232.2,387.7 238.5,386.4 241.3,385.9 C244.0,385.3 250.4,384.0 253.1,383.5 C255.9,382.9 262.2,381.8 265.0,381.1 C267.8,380.4 274.1,378.3 276.9,377.1 C279.6,375.9 286.0,372.7 288.7,370.8 C291.5,368.8 297.8,363.9 300.6,360.2 C303.4,356.6 309.7,346.0 312.5,339.4 C315.2,332.7 321.5,312.8 324.3,303.1 C327.1,293.5 333.4,267.6 336.2,256.8 C338.9,246.0 345.3,220.8 348.0,210.7 C350.8,200.6 357.1,177.8 359.9,170.2 C362.7,162.7 369.0,148.7 371.8,146.2 C374.5,143.8 380.9,146.5 383.6,149.7 C386.4,152.8 392.7,166.0 395.5,173.5 C398.3,181.0 404.6,204.1 407.4,214.2 C410.1,224.3 416.5,248.3 419.2,260.1 C422.0,271.9 428.3,303.0 431.1,315.2 C433.9,327.4 440.2,355.0 443.0,364.6 C445.7,374.1 452.0,390.4 454.8,397.3 C457.6,404.1 463.9,418.0 466.7,423.2 C469.4,428.4 475.8,438.2 478.5,441.9 C481.3,445.6 487.6,452.4 490.4,454.7 C493.2,456.9 499.5,459.8 502.3,461.1 C505.0,462.4 511.4,464.9 514.1,465.6 C516.9,466.4 523.2,467.3 526.0,467.6 C528.8,468.0 535.1,468.6 537.9,468.8 C540.6,469.1 547.0,469.7 549.7,469.8 C552.5,469.9 558.8,469.8 561.6,469.8 C564.4,469.8 570.7,470.0 573.4,470.0 C576.2,470.1 582.5,470.4 585.3,470.5 C588.1,470.6 594.4,470.9 597.2,471.0 C599.9,471.1 606.3,471.4 609.0,471.5 C611.8,471.6 618.1,471.8 620.9,471.9 C623.7,472.0 630.0,472.1 632.8,472.1 C635.5,472.1 641.9,472.1 644.6,472.1 C647.4,472.0 653.7,471.9 656.5,471.8 C659.3,471.7 665.6,471.5 668.4,471.4 C671.1,471.3 677.5,471.0 680.2,470.9 C683.0,470.8 689.3,470.5 692.1,470.4 C694.9,470.3 701.2,470.0 703.9,470.0 C706.7,469.9 713.0,469.8 715.8,469.8 C718.6,469.8 724.9,469.8 727.7,469.8 C730.4,469.8 736.8,470.0 739.5,470.1 C742.3,470.1 748.6,470.4 751.4,470.5 C754.2,470.6 760.5,470.9 763.3,471.0 C766.0,471.1 772.4,471.4 775.1,471.5 C777.9,471.6 784.2,471.8 787.0,471.9 C789.8,472.0 796.1,472.1 798.9,472.1 C801.6,472.1 808.0,472.0 810.7,472.1 C813.5,472.1 819.8,472.6 822.6,472.7 C825.4,472.8 831.7,473.0 834.4,473.1 C837.2,473.2 844.9,473.4 846.3,473.4"/><path d="M134.5,434.7 L146.4,386.6 L158.2,393.2"/><path d="M158.2,393.2 C159.6,393.3 167.3,393.5 170.1,393.5 C172.9,393.5 179.2,393.5 182.0,393.5 C184.7,393.5 191.0,393.6 193.8,393.6 C196.6,393.6 202.9,393.4 205.7,393.2 C208.4,393.0 214.8,392.4 217.5,392.0 C220.3,391.6 226.6,390.4 229.4,389.9 C232.2,389.4 238.5,388.1 241.3,387.6 C244.0,387.0 250.4,385.7 253.1,385.2 C255.9,384.6 262.2,383.6 265.0,382.9 C267.8,382.2 274.1,380.1 276.9,378.9 C279.6,377.7 286.0,374.6 288.7,372.7 C291.5,370.7 297.8,365.8 300.6,362.2 C303.4,358.6 309.7,348.2 312.5,341.6 C315.2,335.0 321.5,315.4 324.3,305.9 C327.1,296.4 333.4,270.8 336.2,260.2 C338.9,249.7 345.3,225.0 348.0,215.3 C350.8,205.5 357.1,183.6 359.9,176.5 C362.7,169.3 369.0,155.6 371.8,153.9 C374.5,152.3 380.9,156.9 383.6,162.5 C386.4,168.1 392.7,190.8 395.5,202.0 C398.3,213.1 404.6,243.6 407.4,257.9 C410.1,272.3 416.5,310.6 419.2,324.9 C422.0,339.3 428.3,370.2 431.1,381.0 C433.9,391.9 440.2,410.4 443.0,417.6 C445.7,424.8 452.0,438.0 454.8,442.6 C457.6,447.2 463.9,454.5 466.7,456.9 C469.4,459.3 475.8,462.0 478.5,463.0 C481.3,463.9 487.6,464.6 490.4,464.9 C493.2,465.2 499.5,465.3 502.3,465.5 C505.0,465.6 511.4,465.9 514.1,465.9 C516.9,466.0 523.2,466.2 526.0,466.2 C528.8,466.2 535.1,466.2 537.9,466.1 C540.6,466.1 547.0,466.0 549.7,465.9 C552.5,465.8 558.8,465.6 561.6,465.6 C564.4,465.5 570.7,465.4 573.4,465.4 C576.2,465.4 582.5,465.5 585.3,465.6 C588.1,465.6 594.4,465.8 597.2,465.9 C599.9,466.0 606.3,466.3 609.0,466.4 C611.8,466.5 618.1,466.8 620.9,466.9 C623.7,467.0 630.0,467.3 632.8,467.4 C635.5,467.5 641.9,467.7 644.6,467.7 C647.4,467.8 653.7,467.8 656.5,467.8 C659.3,467.8 665.6,467.7 668.4,467.7 C671.1,467.6 677.5,467.5 680.2,467.4 C683.0,467.3 689.3,467.0 692.1,466.9 C694.9,466.8 701.2,466.5 703.9,466.4 C706.7,466.2 713.0,466.0 715.8,465.9 C718.6,465.8 724.9,465.6 727.7,465.6 C730.4,465.5 736.8,465.4 739.5,465.4 C742.3,465.5 748.6,465.5 751.4,465.6 C754.2,465.6 760.5,465.8 763.3,465.9 C766.0,466.0 772.4,466.3 775.1,466.4 C777.9,466.5 784.2,466.8 787.0,466.9 C789.8,467.0 796.1,467.3 798.9,467.4 C801.6,467.5 808.0,467.7 810.7,467.7 C813.5,467.7 819.8,467.5 822.6,467.4 C825.4,467.3 831.7,467.0 834.4,466.8 C837.2,466.7 844.9,466.1 846.3,466.0"/><path d="M134.5,439.5 L146.4,388.8 L158.2,395.3"/><path d="M158.2,395.3 C159.6,395.3 167.3,395.3 170.1,395.3 C172.9,395.3 179.2,395.3 182.0,395.3 C184.7,395.3 191.0,395.4 193.8,395.3 C196.6,395.2 202.9,394.9 205.7,394.7 C208.4,394.4 214.8,393.6 217.5,393.2 C220.3,392.7 226.6,391.5 229.4,391.0 C232.2,390.5 238.5,389.3 241.3,388.7 C244.0,388.2 250.4,386.9 253.1,386.4 C255.9,385.9 262.2,385.0 265.0,384.2 C267.8,383.4 274.1,381.1 276.9,379.8 C279.6,378.5 286.0,375.2 288.7,373.1 C291.5,370.9 297.8,365.2 300.6,361.2 C303.4,357.2 309.7,345.7 312.5,338.6 C315.2,331.5 321.5,309.9 324.3,300.3 C327.1,290.6 333.4,265.9 336.2,255.9 C338.9,245.8 345.3,222.7 348.0,214.2 C350.8,205.7 357.1,187.9 359.9,183.0 C362.7,178.1 369.0,171.8 371.8,172.2 C374.5,172.7 380.9,181.4 383.6,186.9 C386.4,192.4 392.7,210.6 395.5,219.5 C398.3,228.3 404.6,252.1 407.4,262.9 C410.1,273.7 416.5,300.3 419.2,311.8 C422.0,323.2 428.3,351.0 431.1,361.0 C433.9,371.1 440.2,390.8 443.0,398.1 C445.7,405.4 452.0,418.7 454.8,423.8 C457.6,428.9 463.9,438.4 466.7,442.0 C469.4,445.5 475.8,452.2 478.5,454.4 C481.3,456.7 487.6,460.0 490.4,461.1 C493.2,462.2 499.5,463.4 502.3,464.1 C505.0,464.7 511.4,466.1 514.1,466.6 C516.9,467.1 523.2,468.2 526.0,468.6 C528.8,469.1 535.1,470.0 537.9,470.5 C540.6,470.9 547.0,472.1 549.7,472.3 C552.5,472.5 558.8,472.3 561.6,472.3 C564.4,472.2 570.7,472.1 573.4,472.0 C576.2,471.9 582.5,471.7 585.3,471.6 C588.1,471.5 594.4,471.2 597.2,471.1 C599.9,471.0 606.3,470.7 609.0,470.6 C611.8,470.5 618.1,470.2 620.9,470.2 C623.7,470.1 630.0,470.0 632.8,470.0 C635.5,469.9 641.9,470.0 644.6,470.0 C647.4,470.0 653.7,470.2 656.5,470.2 C659.3,470.3 665.6,470.6 668.4,470.7 C671.1,470.8 677.5,471.1 680.2,471.2 C683.0,471.3 689.3,471.6 692.1,471.7 C694.9,471.8 701.2,472.0 703.9,472.1 C706.7,472.2 713.0,472.3 715.8,472.3 C718.6,472.3 724.9,472.3 727.7,472.3 C730.4,472.2 736.8,472.1 739.5,472.0 C742.3,471.9 748.6,471.7 751.4,471.6 C754.2,471.5 760.5,471.2 763.3,471.1 C766.0,470.9 772.4,470.7 775.1,470.6 C777.9,470.4 784.2,470.2 787.0,470.2 C789.8,470.1 796.1,470.0 798.9,470.0 C801.6,469.9 808.0,469.9 810.7,470.0 C813.5,470.0 819.8,470.2 822.6,470.3 C825.4,470.4 831.7,470.7 834.4,470.8 C837.2,470.9 844.9,471.3 846.3,471.4"/><path d="M134.5,425.8 L146.4,391.0 L158.2,396.9"/><path d="M158.2,396.9 C159.6,396.9 167.3,397.1 170.1,397.2 C172.9,397.2 179.2,397.2 182.0,397.2 C184.7,397.2 191.0,397.3 193.8,397.2 C196.6,397.2 202.9,397.0 205.7,396.9 C208.4,396.7 214.8,396.1 217.5,395.7 C220.3,395.3 226.6,394.2 229.4,393.7 C232.2,393.2 238.5,392.0 241.3,391.4 C244.0,390.9 250.4,389.7 253.1,389.2 C255.9,388.7 262.2,387.7 265.0,387.1 C267.8,386.5 274.1,384.9 276.9,383.9 C279.6,383.0 286.0,380.4 288.7,378.8 C291.5,377.2 297.8,373.4 300.6,370.5 C303.4,367.6 309.7,359.3 312.5,353.8 C315.2,348.2 321.5,331.7 324.3,323.2 C327.1,314.8 333.4,290.6 336.2,280.9 C338.9,271.3 345.3,249.0 348.0,240.5 C350.8,232.0 357.1,213.9 359.9,208.0 C362.7,202.1 369.0,190.5 371.8,189.9 C374.5,189.2 380.9,196.1 383.6,202.4 C386.4,208.7 392.7,232.7 395.5,243.9 C398.3,255.1 404.6,285.2 407.4,298.5 C410.1,311.9 416.5,345.7 419.2,358.2 C422.0,370.6 428.3,396.4 431.1,405.2 C433.9,414.1 440.2,428.7 443.0,434.1 C445.7,439.5 452.0,448.1 454.8,451.2 C457.6,454.3 463.9,459.0 466.7,460.5 C469.4,462.1 475.8,463.8 478.5,464.3 C481.3,464.9 487.6,465.2 490.4,465.4 C493.2,465.5 499.5,465.5 502.3,465.7 C505.0,465.9 511.4,467.0 514.1,467.4 C516.9,467.8 523.2,468.5 526.0,468.8 C528.8,469.1 535.1,469.8 537.9,470.0 C540.6,470.3 547.0,471.0 549.7,471.1 C552.5,471.2 558.8,471.0 561.6,471.0 C564.4,471.0 570.7,471.1 573.4,471.1 C576.2,471.2 582.5,471.3 585.3,471.4 C588.1,471.5 594.4,471.8 597.2,471.9 C599.9,472.0 606.3,472.3 609.0,472.4 C611.8,472.5 618.1,472.8 620.9,472.9 C623.7,473.0 630.0,473.2 632.8,473.2 C635.5,473.3 641.9,473.4 644.6,473.4 C647.4,473.4 653.7,473.3 656.5,473.3 C659.3,473.2 665.6,473.0 668.4,472.9 C671.1,472.9 677.5,472.6 680.2,472.5 C683.0,472.4 689.3,472.1 692.1,471.9 C694.9,471.8 701.2,471.6 703.9,471.5 C706.7,471.4 713.0,471.2 715.8,471.1 C718.6,471.1 724.9,471.0 727.7,471.0 C730.4,471.0 736.8,471.1 739.5,471.1 C742.3,471.2 748.6,471.3 751.4,471.4 C754.2,471.5 760.5,471.8 763.3,471.9 C766.0,472.0 772.4,472.3 775.1,472.4 C777.9,472.6 784.2,472.8 787.0,472.9 C789.8,473.0 796.1,473.2 798.9,473.3 C801.6,473.3 808.0,473.3 810.7,473.4 C813.5,473.4 819.8,473.5 822.6,473.6 C825.4,473.6 831.7,473.6 834.4,473.5 C837.2,473.5 844.9,473.4 846.3,473.4"/><path d="M134.5,441.5 L146.4,393.0 L158.2,398.3"/><path d="M158.2,398.3 C159.6,398.4 167.3,398.9 170.1,399.0 C172.9,399.0 179.2,399.0 182.0,399.0 C184.7,399.0 191.0,399.0 193.8,399.0 C196.6,399.0 202.9,398.9 205.7,398.7 C208.4,398.6 214.8,398.0 217.5,397.7 C220.3,397.4 226.6,396.2 229.4,395.8 C232.2,395.3 238.5,394.0 241.3,393.5 C244.0,393.0 250.4,391.8 253.1,391.3 C255.9,390.8 262.2,389.8 265.0,389.2 C267.8,388.6 274.1,387.3 276.9,386.4 C279.6,385.5 286.0,383.0 288.7,381.6 C291.5,380.2 297.8,376.7 300.6,374.2 C303.4,371.6 309.7,364.5 312.5,359.5 C315.2,354.5 321.5,339.7 324.3,331.6 C327.1,323.5 333.4,299.4 336.2,289.9 C338.9,280.4 345.3,258.3 348.0,250.0 C350.8,241.6 357.1,224.1 359.9,218.3 C362.7,212.5 369.0,201.4 371.8,200.2 C374.5,198.9 380.9,203.7 383.6,207.5 C386.4,211.4 392.7,225.5 395.5,232.8 C398.3,240.1 404.6,261.0 407.4,270.2 C410.1,279.4 416.5,301.6 419.2,311.5 C422.0,321.4 428.3,345.6 431.1,355.3 C433.9,365.0 440.2,386.8 443.0,394.5 C445.7,402.2 452.0,415.8 454.8,421.0 C457.6,426.2 463.9,435.3 466.7,438.8 C469.4,442.3 475.8,448.3 478.5,450.7 C481.3,453.0 487.6,457.3 490.4,458.7 C493.2,460.1 499.5,461.9 502.3,462.8 C505.0,463.6 511.4,465.4 514.1,465.9 C516.9,466.5 523.2,467.3 526.0,467.6 C528.8,468.0 535.1,468.5 537.9,468.7 C540.6,468.9 547.0,469.4 549.7,469.4 C552.5,469.4 558.8,469.0 561.6,468.9 C564.4,468.8 570.7,468.5 573.4,468.4 C576.2,468.3 582.5,468.0 585.3,467.9 C588.1,467.8 594.4,467.7 597.2,467.6 C599.9,467.6 606.3,467.5 609.0,467.5 C611.8,467.5 618.1,467.6 620.9,467.7 C623.7,467.7 630.0,467.9 632.8,468.0 C635.5,468.1 641.9,468.4 644.6,468.5 C647.4,468.6 653.7,468.9 656.5,469.0 C659.3,469.1 665.6,469.4 668.4,469.5 C671.1,469.6 677.5,469.7 680.2,469.8 C683.0,469.8 689.3,469.9 692.1,469.9 C694.9,469.9 701.2,469.8 703.9,469.7 C706.7,469.7 713.0,469.5 715.8,469.4 C718.6,469.3 724.9,469.0 727.7,468.9 C730.4,468.8 736.8,468.5 739.5,468.4 C742.3,468.2 748.6,468.0 751.4,467.9 C754.2,467.8 760.5,467.6 763.3,467.6 C766.0,467.6 772.4,467.5 775.1,467.5 C777.9,467.5 784.2,467.6 787.0,467.7 C789.8,467.7 796.1,467.9 798.9,468.0 C801.6,468.1 808.0,468.3 810.7,468.5 C813.5,468.8 819.8,469.7 822.6,470.0 C825.4,470.4 831.7,471.1 834.4,471.4 C837.2,471.8 844.9,472.6 846.3,472.7"/><path d="M134.5,432.3 L146.4,395.1 L158.2,400.1"/><path d="M158.2,400.1 C159.6,400.2 167.3,400.7 170.1,400.8 C172.9,400.9 179.2,400.8 182.0,400.8 C184.7,400.8 191.0,400.9 193.8,400.8 C196.6,400.8 202.9,400.6 205.7,400.5 C208.4,400.3 214.8,399.7 217.5,399.4 C220.3,399.0 226.6,397.9 229.4,397.4 C232.2,396.9 238.5,395.7 241.3,395.2 C244.0,394.7 250.4,393.5 253.1,393.0 C255.9,392.5 262.2,391.6 265.0,391.1 C267.8,390.5 274.1,389.2 276.9,388.3 C279.6,387.5 286.0,385.2 288.7,383.8 C291.5,382.5 297.8,379.3 300.6,376.8 C303.4,374.4 309.7,367.5 312.5,362.8 C315.2,358.1 321.5,344.1 324.3,336.3 C327.1,328.6 333.4,305.2 336.2,296.1 C338.9,287.0 345.3,265.9 348.0,258.1 C350.8,250.2 357.1,234.3 359.9,229.0 C362.7,223.7 369.0,213.6 371.8,212.8 C374.5,212.0 380.9,217.4 383.6,222.4 C386.4,227.3 392.7,246.2 395.5,255.3 C398.3,264.4 404.6,289.6 407.4,300.4 C410.1,311.3 416.5,337.4 419.2,348.2 C422.0,359.0 428.3,384.0 431.1,393.0 C433.9,402.0 440.2,419.0 443.0,425.0 C445.7,431.0 452.0,440.6 454.8,444.1 C457.6,447.6 463.9,453.0 466.7,455.0 C469.4,457.0 475.8,460.3 478.5,461.4 C481.3,462.5 487.6,463.8 490.4,464.2 C493.2,464.7 499.5,465.2 502.3,465.4 C505.0,465.6 511.4,465.9 514.1,465.9 C516.9,465.9 523.2,465.8 526.0,465.8 C528.8,465.7 535.1,465.5 537.9,465.4 C540.6,465.3 547.0,464.9 549.7,464.8 C552.5,464.7 558.8,464.6 561.6,464.6 C564.4,464.6 570.7,464.6 573.4,464.6 C576.2,464.7 582.5,464.8 585.3,464.9 C588.1,465.0 594.4,465.2 597.2,465.3 C599.9,465.4 606.3,465.7 609.0,465.8 C611.8,466.0 618.1,466.2 620.9,466.4 C623.7,466.5 630.0,466.7 632.8,466.7 C635.5,466.8 641.9,466.9 644.6,467.0 C647.4,467.0 653.7,467.0 656.5,466.9 C659.3,466.9 665.6,466.7 668.4,466.7 C671.1,466.6 677.5,466.3 680.2,466.2 C683.0,466.1 689.3,465.8 692.1,465.7 C694.9,465.6 701.2,465.3 703.9,465.2 C706.7,465.1 713.0,464.9 715.8,464.8 C718.6,464.7 724.9,464.6 727.7,464.6 C730.4,464.6 736.8,464.6 739.5,464.6 C742.3,464.7 748.6,464.8 751.4,464.9 C754.2,465.0 760.5,465.2 763.3,465.3 C766.0,465.5 772.4,465.7 775.1,465.9 C777.9,466.0 784.2,466.3 787.0,466.4 C789.8,466.5 796.1,466.7 798.9,466.8 C801.6,466.8 808.0,466.8 810.7,467.0 C813.5,467.1 819.8,468.0 822.6,468.2 C825.4,468.5 831.7,469.1 834.4,469.3 C837.2,469.5 844.9,470.1 846.3,470.2"/><path d="M134.5,435.1 L146.4,397.8 L158.2,403.2"/><path d="M158.2,403.2 C159.6,403.2 167.3,403.2 170.1,403.2 C172.9,403.2 179.2,403.2 182.0,403.2 C184.7,403.2 191.0,403.3 193.8,403.2 C196.6,403.2 202.9,402.9 205.7,402.7 C208.4,402.5 214.8,401.8 217.5,401.4 C220.3,401.0 226.6,399.8 229.4,399.3 C232.2,398.8 238.5,397.7 241.3,397.2 C244.0,396.7 250.4,395.5 253.1,395.0 C255.9,394.6 262.2,393.8 265.0,393.3 C267.8,392.7 274.1,391.3 276.9,390.4 C279.6,389.6 286.0,387.3 288.7,385.8 C291.5,384.4 297.8,380.7 300.6,378.0 C303.4,375.3 309.7,368.0 312.5,362.9 C315.2,357.9 321.5,342.3 324.3,334.4 C327.1,326.4 333.4,303.8 336.2,295.2 C338.9,286.5 345.3,267.0 348.0,260.1 C350.8,253.2 357.1,239.9 359.9,235.9 C362.7,231.8 369.0,224.4 371.8,225.6 C374.5,226.8 380.9,239.3 383.6,246.5 C386.4,253.6 392.7,276.6 395.5,287.1 C398.3,297.5 404.6,324.7 407.4,336.1 C410.1,347.4 416.5,374.4 419.2,384.5 C422.0,394.5 428.3,415.4 431.1,422.3 C433.9,429.3 440.2,440.3 443.0,444.3 C445.7,448.2 452.0,453.8 454.8,455.9 C457.6,457.9 463.9,461.1 466.7,462.1 C469.4,463.2 475.8,464.2 478.5,464.6 C481.3,465.0 487.6,465.4 490.4,465.6 C493.2,465.7 499.5,465.9 502.3,465.9 C505.0,465.9 511.4,465.8 514.1,465.8 C516.9,465.7 523.2,465.5 526.0,465.4 C528.8,465.3 535.1,465.0 537.9,464.8 C540.6,464.7 547.0,464.4 549.7,464.3 C552.5,464.3 558.8,464.4 561.6,464.4 C564.4,464.4 570.7,464.6 573.4,464.7 C576.2,464.8 582.5,465.1 585.3,465.2 C588.1,465.3 594.4,465.6 597.2,465.7 C599.9,465.8 606.3,466.1 609.0,466.2 C611.8,466.3 618.1,466.5 620.9,466.5 C623.7,466.6 630.0,466.7 632.8,466.7 C635.5,466.7 641.9,466.6 644.6,466.6 C647.4,466.6 653.7,466.4 656.5,466.3 C659.3,466.2 665.6,465.9 668.4,465.8 C671.1,465.7 677.5,465.4 680.2,465.3 C683.0,465.2 689.3,464.9 692.1,464.8 C694.9,464.7 701.2,464.5 703.9,464.5 C706.7,464.4 713.0,464.3 715.8,464.3 C718.6,464.3 724.9,464.4 727.7,464.4 C730.4,464.5 736.8,464.6 739.5,464.7 C742.3,464.8 748.6,465.1 751.4,465.2 C754.2,465.3 760.5,465.6 763.3,465.7 C766.0,465.8 772.4,466.1 775.1,466.2 C777.9,466.3 784.2,466.5 787.0,466.5 C789.8,466.6 796.1,466.7 798.9,466.7 C801.6,466.7 808.0,466.5 810.7,466.6 C813.5,466.7 819.8,467.3 822.6,467.4 C825.4,467.6 831.7,468.0 834.4,468.1 C837.2,468.3 844.9,468.7 846.3,468.8"/><path d="M134.5,430.2 L146.4,399.7 L158.2,404.2"/><path d="M158.2,404.2 C159.6,404.3 167.3,404.9 170.1,405.0 C172.9,405.1 179.2,405.0 182.0,405.0 C184.7,405.0 191.0,405.1 193.8,405.0 C196.6,405.0 202.9,404.8 205.7,404.6 C208.4,404.4 214.8,403.8 217.5,403.4 C220.3,403.1 226.6,401.9 229.4,401.4 C232.2,401.0 238.5,399.8 241.3,399.3 C244.0,398.8 250.4,397.7 253.1,397.2 C255.9,396.8 262.2,395.9 265.0,395.4 C267.8,394.9 274.1,393.7 276.9,392.9 C279.6,392.1 286.0,390.0 288.7,388.8 C291.5,387.5 297.8,384.5 300.6,382.3 C303.4,380.1 309.7,373.9 312.5,369.7 C315.2,365.4 321.5,352.9 324.3,345.6 C327.1,338.3 333.4,315.7 336.2,307.0 C338.9,298.3 345.3,278.3 348.0,271.1 C350.8,263.9 357.1,249.8 359.9,245.2 C362.7,240.6 369.0,231.8 371.8,231.4 C374.5,231.1 380.9,237.3 383.6,242.2 C386.4,247.0 392.7,264.6 395.5,273.2 C398.3,281.8 404.6,305.5 407.4,315.6 C410.1,325.6 416.5,349.5 419.2,359.3 C422.0,369.1 428.3,391.2 431.1,399.4 C433.9,407.6 440.2,424.0 443.0,429.6 C445.7,435.1 452.0,443.9 454.8,447.1 C457.6,450.2 463.9,454.8 466.7,456.5 C469.4,458.3 475.8,461.1 478.5,462.0 C481.3,462.9 487.6,464.0 490.4,464.4 C493.2,464.8 499.5,465.2 502.3,465.4 C505.0,465.6 511.4,466.0 514.1,466.1 C516.9,466.3 523.2,466.6 526.0,466.7 C528.8,466.9 535.1,467.3 537.9,467.5 C540.6,467.7 547.0,468.3 549.7,468.5 C552.5,468.7 558.8,468.8 561.6,468.8 C564.4,468.9 570.7,469.0 573.4,469.0 C576.2,469.0 582.5,468.9 585.3,468.9 C588.1,468.8 594.4,468.6 597.2,468.5 C599.9,468.4 606.3,468.2 609.0,468.1 C611.8,467.9 618.1,467.7 620.9,467.5 C623.7,467.4 630.0,467.2 632.8,467.1 C635.5,467.0 641.9,466.8 644.6,466.7 C647.4,466.7 653.7,466.6 656.5,466.6 C659.3,466.6 665.6,466.7 668.4,466.7 C671.1,466.8 677.5,466.9 680.2,467.0 C683.0,467.1 689.3,467.4 692.1,467.5 C694.9,467.6 701.2,467.9 703.9,468.0 C706.7,468.2 713.0,468.4 715.8,468.5 C718.6,468.6 724.9,468.8 727.7,468.8 C730.4,468.9 736.8,469.0 739.5,469.0 C742.3,469.0 748.6,468.9 751.4,468.8 C754.2,468.8 760.5,468.6 763.3,468.5 C766.0,468.4 772.4,468.2 775.1,468.0 C777.9,467.9 784.2,467.6 787.0,467.5 C789.8,467.4 796.1,467.1 798.9,467.0 C801.6,466.9 808.0,466.9 810.7,466.7 C813.5,466.5 819.8,465.9 822.6,465.6 C825.4,465.4 831.7,465.0 834.4,464.8 C837.2,464.6 844.9,464.2 846.3,464.1"/><path d="M134.5,437.7 L146.4,403.9 L158.2,408.6"/><path d="M158.2,408.6 C159.6,408.6 167.3,408.7 170.1,408.6 C172.9,408.5 179.2,408.2 182.0,408.0 C184.7,407.8 191.0,407.2 193.8,406.8 C196.6,406.5 202.9,405.5 205.7,405.1 C208.4,404.6 214.8,403.7 217.5,403.3 C220.3,402.9 226.6,401.9 229.4,401.5 C232.2,401.1 238.5,400.1 241.3,399.7 C244.0,399.4 250.4,399.0 253.1,398.6 C255.9,398.1 262.2,396.9 265.0,396.2 C267.8,395.5 274.1,393.7 276.9,392.7 C279.6,391.6 286.0,389.1 288.7,387.3 C291.5,385.6 297.8,380.8 300.6,377.9 C303.4,375.0 309.7,368.1 312.5,362.6 C315.2,357.1 321.5,338.1 324.3,330.7 C327.1,323.3 333.4,305.4 336.2,298.8 C338.9,292.2 345.3,278.6 348.0,274.0 C350.8,269.5 357.1,262.3 359.9,259.8 C362.7,257.4 369.0,252.0 371.8,253.1 C374.5,254.2 380.9,264.0 383.6,269.4 C386.4,274.7 392.7,291.3 395.5,299.0 C398.3,306.7 404.6,327.0 407.4,335.7 C410.1,344.4 416.5,365.4 419.2,373.7 C422.0,382.0 428.3,399.8 431.1,406.8 C433.9,413.9 440.2,428.8 443.0,434.1 C445.7,439.3 452.0,448.9 454.8,451.9 C457.6,454.8 463.9,458.3 466.7,459.6 C469.4,460.9 475.8,462.5 478.5,463.1 C481.3,463.7 487.6,464.6 490.4,464.9 C493.2,465.2 499.5,465.4 502.3,465.5 C505.0,465.6 511.4,465.9 514.1,466.0 C516.9,466.0 523.2,466.1 526.0,466.1 C528.8,466.1 535.1,466.1 537.9,466.1 C540.6,466.2 547.0,466.3 549.7,466.4 C552.5,466.5 558.8,466.8 561.6,466.9 C564.4,467.0 570.7,467.3 573.4,467.4 C576.2,467.5 582.5,467.8 585.3,467.9 C588.1,468.0 594.4,468.2 597.2,468.3 C599.9,468.3 606.3,468.4 609.0,468.5 C611.8,468.5 618.1,468.4 620.9,468.4 C623.7,468.4 630.0,468.2 632.8,468.1 C635.5,468.0 641.9,467.8 644.6,467.7 C647.4,467.6 653.7,467.3 656.5,467.1 C659.3,467.0 665.6,466.8 668.4,466.6 C671.1,466.5 677.5,466.3 680.2,466.3 C683.0,466.2 689.3,466.1 692.1,466.1 C694.9,466.1 701.2,466.1 703.9,466.2 C706.7,466.2 713.0,466.4 715.8,466.4 C718.6,466.5 724.9,466.8 727.7,466.9 C730.4,467.0 736.8,467.3 739.5,467.4 C742.3,467.5 748.6,467.8 751.4,467.9 C754.2,468.0 760.5,468.2 763.3,468.3 C766.0,468.3 772.4,468.4 775.1,468.5 C777.9,468.5 784.2,468.4 787.0,468.4 C789.8,468.4 796.1,468.2 798.9,468.1 C801.6,468.0 808.0,467.9 810.7,467.7 C813.5,467.4 819.8,466.6 822.6,466.3 C825.4,466.0 831.7,465.3 834.4,465.1 C837.2,464.8 844.9,464.0 846.3,463.9"/><path d="M134.5,447.1 L146.4,417.5 L158.2,420.5"/><path d="M158.2,420.5 C159.6,420.5 167.3,420.5 170.1,420.5 C172.9,420.5 179.2,420.5 182.0,420.5 C184.7,420.4 191.0,420.3 193.8,420.2 C196.6,420.2 202.9,420.1 205.7,419.9 C208.4,419.7 214.8,418.9 217.5,418.7 C220.3,418.5 226.6,418.3 229.4,418.1 C232.2,417.9 238.5,417.2 241.3,416.9 C244.0,416.6 250.4,416.2 253.1,415.7 C255.9,415.2 262.2,413.6 265.0,412.8 C267.8,411.9 274.1,409.9 276.9,408.6 C279.6,407.4 286.0,404.0 288.7,402.1 C291.5,400.2 297.8,395.1 300.6,392.0 C303.4,389.0 309.7,380.4 312.5,376.0 C315.2,371.7 321.5,359.7 324.3,354.7 C327.1,349.7 333.4,337.1 336.2,332.8 C338.9,328.5 345.3,320.6 348.0,318.0 C350.8,315.3 357.1,310.0 359.9,310.0 C362.7,310.0 369.0,315.1 371.8,318.0 C374.5,320.8 380.9,329.4 383.6,334.6 C386.4,339.7 392.7,355.2 395.5,361.8 C398.3,368.4 404.6,384.9 407.4,391.4 C410.1,397.9 416.5,412.3 419.2,417.5 C422.0,422.8 428.3,432.9 431.1,436.5 C433.9,440.1 440.2,446.1 443.0,448.3 C445.7,450.5 452.0,454.2 454.8,455.4 C457.6,456.7 463.9,458.2 466.7,459.0 C469.4,459.7 475.8,461.3 478.5,461.9 C481.3,462.6 487.6,464.1 490.4,464.9 C493.2,465.7 499.5,467.5 502.3,468.5 C505.0,469.4 511.4,472.1 514.1,473.2 C516.9,474.3 523.2,476.8 526.0,477.9 C528.8,479.0 535.1,481.7 537.9,482.7 C540.6,483.6 547.0,485.6 549.7,486.2 C552.5,486.9 558.8,487.9 561.6,488.0 C564.4,488.1 570.7,487.4 573.4,486.8 C576.2,486.2 582.5,483.9 585.3,482.7 C588.1,481.5 594.4,478.1 597.2,476.8 C599.9,475.4 606.3,471.9 609.0,470.8 C611.8,469.8 618.1,468.4 620.9,467.9 C623.7,467.4 630.0,466.8 632.8,466.7 C635.5,466.5 641.9,466.7 644.6,466.7 C647.4,466.7 653.7,466.7 656.5,466.7 C659.3,466.7 665.6,466.7 668.4,466.7 C671.1,466.7 677.5,466.7 680.2,466.7 C683.0,466.7 689.3,466.7 692.1,466.7 C694.9,466.7 701.2,466.7 703.9,466.7 C706.7,466.7 713.0,466.7 715.8,466.7 C718.6,466.7 724.9,466.7 727.7,466.7 C730.4,466.7 736.8,466.7 739.5,466.7 C742.3,466.7 748.6,466.7 751.4,466.7 C754.2,466.7 760.5,466.7 763.3,466.7 C766.0,466.7 772.4,466.7 775.1,466.7 C777.9,466.7 784.2,466.7 787.0,466.7 C789.8,466.7 796.1,466.7 798.9,466.7 C801.6,466.7 808.0,466.7 810.7,466.7 C813.5,466.7 819.8,466.7 822.6,466.7 C825.4,466.7 831.7,466.7 834.4,466.7 C837.2,466.7 844.9,466.7 846.3,466.7"/></g>
<rect x="98.0" y="35.0" width="784.5" height="461.0" fill="none" stroke="#000" stroke-width="2.4"/>
<path d="M110.8,491 V500.5 M110.8,35.0 V40.5 M134.5,489 V504.5 M134.5,35.0 V43 M158.2,491 V500.5 M158.2,35.0 V40.5 M182.0,491 V500.5 M182.0,35.0 V40.5 M205.7,491 V500.5 M205.7,35.0 V40.5 M229.4,491 V500.5 M229.4,35.0 V40.5 M253.1,489 V504.5 M253.1,35.0 V43 M276.9,491 V500.5 M276.9,35.0 V40.5 M300.6,491 V500.5 M300.6,35.0 V40.5 M324.3,491 V500.5 M324.3,35.0 V40.5 M348.0,491 V500.5 M348.0,35.0 V40.5 M371.8,489 V504.5 M371.8,35.0 V43 M395.5,491 V500.5 M395.5,35.0 V40.5 M419.2,491 V500.5 M419.2,35.0 V40.5 M443.0,491 V500.5 M443.0,35.0 V40.5 M466.7,491 V500.5 M466.7,35.0 V40.5 M490.4,489 V504.5 M490.4,35.0 V43 M514.1,491 V500.5 M514.1,35.0 V40.5 M537.9,491 V500.5 M537.9,35.0 V40.5 M561.6,491 V500.5 M561.6,35.0 V40.5 M585.3,491 V500.5 M585.3,35.0 V40.5 M609.0,489 V504.5 M609.0,35.0 V43 M632.8,491 V500.5 M632.8,35.0 V40.5 M656.5,491 V500.5 M656.5,35.0 V40.5 M680.2,491 V500.5 M680.2,35.0 V40.5 M703.9,491 V500.5 M703.9,35.0 V40.5 M727.7,489 V504.5 M727.7,35.0 V43 M751.4,491 V500.5 M751.4,35.0 V40.5 M775.1,491 V500.5 M775.1,35.0 V40.5 M798.9,491 V500.5 M798.9,35.0 V40.5 M822.6,491 V500.5 M822.6,35.0 V40.5 M846.3,489 V504.5 M846.3,35.0 V43 M870.0,491 V500.5 M870.0,35.0 V40.5 M89,473.2 H104 M874,473.2 H882.5 M93,449.5 H103 M877.6,449.5 H882.5 M93,425.8 H103 M877.6,425.8 H882.5 M93,402.1 H103 M877.6,402.1 H882.5 M93,378.4 H103 M877.6,378.4 H882.5 M89,354.7 H104 M874,354.7 H882.5 M93,331.0 H103 M877.6,331.0 H882.5 M93,307.3 H103 M877.6,307.3 H882.5 M93,283.6 H103 M877.6,283.6 H882.5 M93,259.9 H103 M877.6,259.9 H882.5 M89,236.2 H104 M874,236.2 H882.5 M93,212.5 H103 M877.6,212.5 H882.5 M93,188.8 H103 M877.6,188.8 H882.5 M93,165.1 H103 M877.6,165.1 H882.5 M93,141.4 H103 M877.6,141.4 H882.5 M89,117.7 H104 M874,117.7 H882.5 M93,94.0 H103 M877.6,94.0 H882.5 M93,70.3 H103 M877.6,70.3 H882.5 M93,46.6 H103 M877.6,46.6 H882.5" stroke="#000" stroke-width="2.2" fill="none"/>
<g font-size="22" fill="#000" stroke="#000" stroke-width="0.45"><text x="76" y="478.8" text-anchor="end">0</text><text x="76" y="360.3" text-anchor="end">100</text><text x="76" y="241.8" text-anchor="end">200</text><text x="76" y="123.3" text-anchor="end">300</text></g>
<g font-size="22" fill="#000" stroke="#000" stroke-width="0.45"><text x="132.7" y="531.5" text-anchor="middle">65</text><text x="251.3" y="531.5" text-anchor="middle">70</text><text x="370.0" y="531.5" text-anchor="middle">75</text><text x="488.6" y="531.5" text-anchor="middle">80</text><text x="607.2" y="531.5" text-anchor="middle">85</text><text x="725.9" y="531.5" text-anchor="middle">90</text><text x="844.5" y="531.5" text-anchor="middle">95</text></g>
<text x="400.1 417.2 429.1 435.4 446.8 461.5 472.9 485.3" y="17.7" font-size="19.5" font-weight="bold">MeltPeak</text>
<text x="489" y="565" font-size="22" font-weight="bold" text-anchor="middle">Temperature, Celsius</text>
<text transform="translate(18.8,330) rotate(-90) scale(0.88,1)" x="9.5 23.0 37.9 49.1 65.1 78.7 95.1 104.8 111.3 128.5" y="0" font-size="22" font-weight="bold">-d(RFU)/dT</text>
</svg>
</body></html>
